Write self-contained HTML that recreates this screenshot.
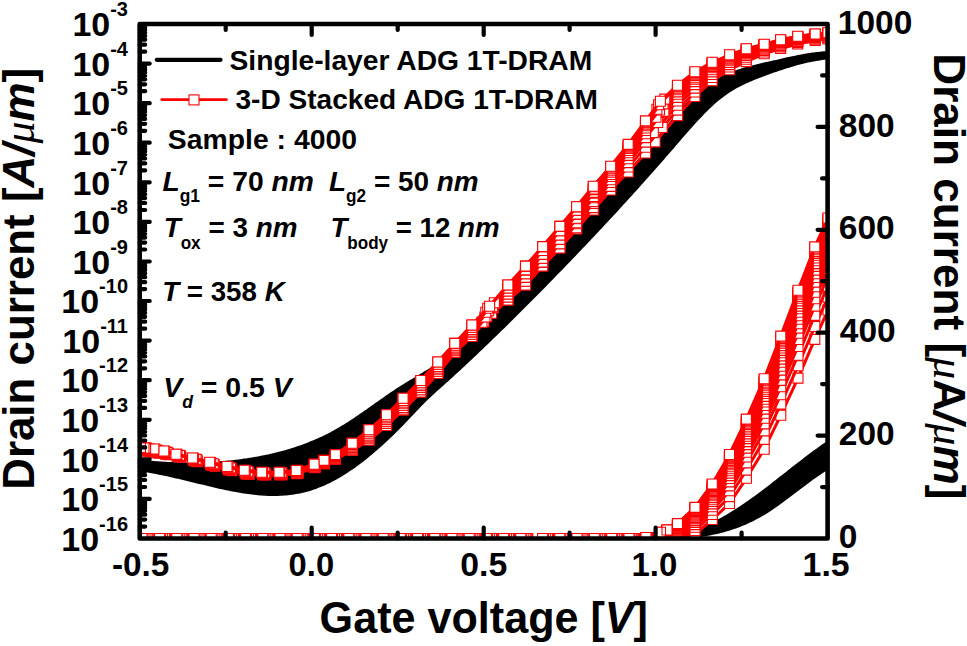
<!DOCTYPE html>
<html><head><meta charset="utf-8"><style>
html,body{margin:0;padding:0;background:#fff;width:967px;height:646px;overflow:hidden}
svg{display:block}
text{font-family:"Liberation Sans",sans-serif;font-weight:bold;fill:#000}
</style></head><body>
<svg width="967" height="646" viewBox="0 0 967 646">
<rect x="0" y="0" width="967" height="646" fill="#fff"/>
<defs><clipPath id="pc"><rect x="139.7" y="24" width="687.9" height="514.5"/></clipPath></defs>
<g clip-path="url(#pc)">
<path d="M136,459.2 L138,459.4 L140,459.6 L142,459.9 L144,460.1 L146,460.3 L148,460.5 L150,460.7 L152,460.8 L154,461 L156,461.2 L158,461.3 L160,461.5 L162,461.6 L164,461.7 L166,461.8 L168,461.9 L170,462 L172,462.1 L174,462.2 L176,462.3 L178,462.3 L180,462.4 L182,462.4 L184,462.4 L186,462.5 L188,462.5 L190,462.5 L192,462.5 L194,462.5 L196,462.4 L198,462.4 L200,462.3 L202,462.3 L204,462.2 L206,462.1 L208,462 L210,461.9 L212,461.8 L214,461.7 L216,461.6 L218,461.5 L220,461.3 L222,461.1 L224,461 L226,460.8 L228,460.6 L230,460.4 L232,460.2 L234,459.9 L236,459.7 L238,459.5 L240,459.2 L242,458.9 L244,458.6 L246,458.4 L248,458 L250,457.7 L252,457.4 L254,457.1 L256,456.7 L258,456.4 L260,456 L262,455.6 L264,455.2 L266,454.8 L268,454.4 L270,453.9 L272,453.5 L274,453 L276,452.5 L278,452 L280,451.5 L282,451 L284,450.4 L286,449.9 L288,449.3 L290,448.7 L292,448.1 L294,447.4 L296,446.8 L298,446.1 L300,445.4 L302,444.7 L304,444 L306,443.2 L308,442.4 L310,441.6 L312,440.8 L314,440 L316,439.1 L318,438.2 L320,437.3 L322,436.4 L324,435.4 L326,434.4 L328,433.4 L330,432.4 L332,431.3 L334,430.2 L336,429.1 L338,428 L340,426.8 L342,425.6 L344,424.4 L346,423.1 L348,421.9 L350,420.6 L352,419.3 L354,417.9 L356,416.6 L358,415.2 L360,413.8 L362,412.5 L364,411.1 L366,409.7 L368,408.3 L370,406.8 L372,405.4 L374,404 L376,402.6 L378,401.2 L380,399.8 L382,398.4 L384,397 L386,395.6 L388,394.2 L390,392.8 L392,391.5 L394,390.2 L396,388.8 L398,387.5 L400,386.3 L402,385 L404,383.8 L406,382.5 L408,381.3 L410,380.1 L412,378.9 L414,377.7 L416,376.5 L418,375.3 L420,374.1 L422,372.9 L424,371.6 L426,370.4 L428,369.2 L430,367.9 L432,366.6 L434,365.3 L436,363.9 L438,362.6 L440,361.2 L442,359.8 L444,358.3 L446,356.8 L448,355.3 L450,353.7 L452,352.1 L454,350.5 L456,348.8 L458,347.1 L460,345.3 L462,343.5 L464,341.7 L466,339.7 L468,337.8 L470,335.7 L472,333.7 L474,331.5 L476,329.4 L478,327.1 L480,324.9 L482,322.7 L484,320.5 L486,318.3 L488,316.1 L490,314 L492,312 L494,310 L496,308.1 L498,306.3 L500,304.5 L502,302.7 L504,300.9 L506,299.2 L508,297.5 L510,295.8 L512,294.1 L514,292.4 L516,290.7 L518,289 L520,287.3 L522,285.5 L524,283.7 L526,281.9 L528,280 L530,278.1 L532,276.2 L534,274.2 L536,272.2 L538,270.1 L540,268.1 L542,265.9 L544,263.8 L546,261.6 L548,259.4 L550,257.2 L552,255 L554,252.7 L556,250.5 L558,248.2 L560,245.9 L562,243.6 L564,241.2 L566,238.9 L568,236.6 L570,234.2 L572,231.9 L574,229.6 L576,227.2 L578,224.9 L580,222.6 L582,220.3 L584,218 L586,215.7 L588,213.4 L590,211.2 L592,208.9 L594,206.7 L596,204.5 L598,202.4 L600,200.2 L602,198.1 L604,195.9 L606,193.8 L608,191.7 L610,189.6 L612,187.5 L614,185.4 L616,183.3 L618,181.2 L620,179.1 L622,177 L624,174.9 L626,172.8 L628,170.6 L630,168.5 L632,166.3 L634,164.2 L636,162 L638,159.7 L640,157.5 L642,155.2 L644,152.9 L646,150.6 L648,148.2 L650,145.8 L652,143.4 L654,141 L656,138.6 L658,136.1 L660,133.7 L662,131.2 L664,128.8 L666,126.3 L668,123.9 L670,121.5 L672,119.1 L674,116.7 L676,114.4 L678,112.1 L680,109.8 L682,107.6 L684,105.4 L686,103.3 L688,101.2 L690,99.2 L692,97.3 L694,95.4 L696,93.6 L698,91.9 L700,90.2 L702,88.6 L704,87.1 L706,85.6 L708,84.3 L710,82.9 L712,81.6 L714,80.4 L716,79.3 L718,78.2 L720,77.1 L722,76.1 L724,75.1 L726,74.2 L728,73.3 L730,72.5 L732,71.7 L734,70.9 L736,70.2 L738,69.5 L740,68.9 L742,68.2 L744,67.6 L746,67 L748,66.5 L750,65.9 L752,65.4 L754,64.9 L756,64.4 L758,64 L760,63.5 L762,63 L764,62.6 L766,62.1 L768,61.7 L770,61.2 L772,60.8 L774,60.3 L776,59.9 L778,59.4 L780,58.9 L782,58.5 L784,58 L786,57.6 L788,57.1 L790,56.7 L792,56.3 L794,55.9 L796,55.5 L798,55.1 L800,54.7 L802,54.3 L804,53.9 L806,53.6 L808,53.3 L810,52.9 L812,52.6 L814,52.4 L816,52.1 L818,51.9 L820,51.7 L822,51.5 L824,51.3 L826,51.2 L828,51 L830,51 L832,50.9 L832,59 L830,59.2 L828,59.4 L826,59.6 L824,59.8 L822,60.1 L820,60.4 L818,60.7 L816,61 L814,61.4 L812,61.8 L810,62.2 L808,62.6 L806,63.1 L804,63.6 L802,64.1 L800,64.6 L798,65.1 L796,65.6 L794,66.2 L792,66.8 L790,67.4 L788,68 L786,68.6 L784,69.2 L782,69.9 L780,70.5 L778,71.2 L776,71.9 L774,72.6 L772,73.3 L770,74 L768,74.7 L766,75.5 L764,76.2 L762,77 L760,77.7 L758,78.5 L756,79.3 L754,80.1 L752,80.9 L750,81.8 L748,82.7 L746,83.6 L744,84.5 L742,85.5 L740,86.5 L738,87.5 L736,88.6 L734,89.8 L732,91 L730,92.2 L728,93.5 L726,94.9 L724,96.4 L722,97.9 L720,99.5 L718,101.1 L716,102.8 L714,104.6 L712,106.5 L710,108.3 L708,110.3 L706,112.3 L704,114.3 L702,116.4 L700,118.5 L698,120.6 L696,122.8 L694,125 L692,127.2 L690,129.5 L688,131.7 L686,134 L684,136.3 L682,138.6 L680,141 L678,143.3 L676,145.6 L674,147.9 L672,150.2 L670,152.5 L668,154.8 L666,157.1 L664,159.4 L662,161.7 L660,164 L658,166.3 L656,168.5 L654,170.8 L652,173.1 L650,175.3 L648,177.6 L646,179.8 L644,182 L642,184.3 L640,186.5 L638,188.7 L636,190.9 L634,193.1 L632,195.4 L630,197.6 L628,199.8 L626,202 L624,204.1 L622,206.3 L620,208.5 L618,210.7 L616,212.9 L614,215 L612,217.2 L610,219.3 L608,221.5 L606,223.6 L604,225.8 L602,227.9 L600,230.1 L598,232.2 L596,234.3 L594,236.5 L592,238.6 L590,240.7 L588,242.8 L586,244.9 L584,247 L582,249.1 L580,251.2 L578,253.3 L576,255.4 L574,257.5 L572,259.6 L570,261.7 L568,263.8 L566,265.8 L564,267.9 L562,270 L560,272 L558,274.1 L556,276.1 L554,278.2 L552,280.3 L550,282.3 L548,284.3 L546,286.4 L544,288.4 L542,290.4 L540,292.5 L538,294.5 L536,296.5 L534,298.5 L532,300.6 L530,302.6 L528,304.6 L526,306.6 L524,308.6 L522,310.6 L520,312.6 L518,314.6 L516,316.5 L514,318.5 L512,320.5 L510,322.5 L508,324.4 L506,326.4 L504,328.4 L502,330.3 L500,332.3 L498,334.2 L496,336.2 L494,338.1 L492,340 L490,342 L488,343.9 L486,345.8 L484,347.7 L482,349.7 L480,351.6 L478,353.5 L476,355.4 L474,357.3 L472,359.2 L470,361.1 L468,362.9 L466,364.8 L464,366.7 L462,368.5 L460,370.4 L458,372.2 L456,374.1 L454,375.9 L452,377.7 L450,379.6 L448,381.4 L446,383.1 L444,384.9 L442,386.7 L440,388.5 L438,390.3 L436,392.1 L434,393.9 L432,395.8 L430,397.7 L428,399.6 L426,401.5 L424,403.5 L422,405.6 L420,407.6 L418,409.7 L416,411.8 L414,413.9 L412,416 L410,418.1 L408,420.2 L406,422.3 L404,424.4 L402,426.5 L400,428.5 L398,430.5 L396,432.5 L394,434.4 L392,436.4 L390,438.3 L388,440.2 L386,442.1 L384,443.9 L382,445.7 L380,447.5 L378,449.3 L376,451 L374,452.8 L372,454.4 L370,456.1 L368,457.7 L366,459.4 L364,460.9 L362,462.5 L360,464 L358,465.5 L356,466.9 L354,468.4 L352,469.8 L350,471.1 L348,472.4 L346,473.7 L344,475 L342,476.2 L340,477.4 L338,478.6 L336,479.7 L334,480.8 L332,481.8 L330,482.9 L328,483.8 L326,484.8 L324,485.7 L322,486.5 L320,487.3 L318,488.1 L316,488.9 L314,489.6 L312,490.2 L310,490.9 L308,491.4 L306,492 L304,492.5 L302,493 L300,493.4 L298,493.8 L296,494.1 L294,494.5 L292,494.8 L290,495 L288,495.2 L286,495.4 L284,495.6 L282,495.7 L280,495.8 L278,495.9 L276,495.9 L274,496 L272,496 L270,495.9 L268,495.9 L266,495.8 L264,495.7 L262,495.6 L260,495.4 L258,495.2 L256,495 L254,494.8 L252,494.6 L250,494.3 L248,494.1 L246,493.8 L244,493.5 L242,493.2 L240,492.8 L238,492.5 L236,492.1 L234,491.8 L232,491.4 L230,491 L228,490.6 L226,490.2 L224,489.7 L222,489.3 L220,488.9 L218,488.4 L216,488 L214,487.5 L212,487 L210,486.6 L208,486.1 L206,485.6 L204,485.1 L202,484.6 L200,484.2 L198,483.7 L196,483.2 L194,482.7 L192,482.2 L190,481.7 L188,481.2 L186,480.7 L184,480.3 L182,479.8 L180,479.3 L178,478.8 L176,478.4 L174,477.9 L172,477.4 L170,477 L168,476.6 L166,476.1 L164,475.7 L162,475.3 L160,474.9 L158,474.5 L156,474.1 L154,473.7 L152,473.3 L150,473 L148,472.6 L146,472.3 L144,472 L142,471.7 L140,471.4 L138,471.1 L136,470.8Z" fill="#000"/>
<path d="M600,538.7 L602,538.8 L604,538.8 L606,538.9 L608,538.9 L610,539 L612,539 L614,539.1 L616,539.1 L618,539.1 L620,539.2 L622,539.2 L624,539.2 L626,539.2 L628,539.2 L630,539.2 L632,539.1 L634,539.1 L636,539.1 L638,539 L640,538.9 L642,538.8 L644,538.7 L646,538.6 L648,538.5 L650,538.3 L652,538.2 L654,538 L656,537.8 L658,537.6 L660,537.3 L662,537.1 L664,536.8 L666,536.5 L668,536.2 L670,535.9 L672,535.5 L674,535.1 L676,534.7 L678,534.3 L680,533.8 L682,533.3 L684,532.8 L686,532.2 L688,531.7 L690,531.1 L692,530.4 L694,529.8 L696,529.1 L698,528.4 L700,527.6 L702,526.8 L704,526 L706,525.1 L708,524.2 L710,523.3 L712,522.4 L714,521.4 L716,520.4 L718,519.3 L720,518.3 L722,517.2 L724,516 L726,514.9 L728,513.7 L730,512.5 L732,511.3 L734,510 L736,508.8 L738,507.5 L740,506.2 L742,504.8 L744,503.5 L746,502.1 L748,500.7 L750,499.3 L752,497.8 L754,496.4 L756,494.9 L758,493.5 L760,492 L762,490.5 L764,489 L766,487.4 L768,485.9 L770,484.4 L772,482.8 L774,481.3 L776,479.7 L778,478.1 L780,476.6 L782,475 L784,473.4 L786,471.9 L788,470.3 L790,468.7 L792,467.1 L794,465.6 L796,464 L798,462.5 L800,460.9 L802,459.4 L804,457.8 L806,456.3 L808,454.8 L810,453.3 L812,451.8 L814,450.3 L816,448.9 L818,447.4 L820,446 L822,444.6 L824,443.2 L826,441.8 L828,440.4 L830,439.1 L832,437.8 L832,467.5 L830,468.7 L828,469.9 L826,471.1 L824,472.3 L822,473.6 L820,475 L818,476.3 L816,477.7 L814,479.1 L812,480.5 L810,482 L808,483.5 L806,485 L804,486.5 L802,488 L800,489.5 L798,491 L796,492.5 L794,494.1 L792,495.6 L790,497.1 L788,498.6 L786,500.1 L784,501.6 L782,503.1 L780,504.5 L778,505.9 L776,507.3 L774,508.7 L772,510.1 L770,511.4 L768,512.7 L766,513.9 L764,515.2 L762,516.3 L760,517.5 L758,518.6 L756,519.6 L754,520.7 L752,521.7 L750,522.6 L748,523.5 L746,524.4 L744,525.3 L742,526.1 L740,526.9 L738,527.7 L736,528.4 L734,529.1 L732,529.8 L730,530.4 L728,531.1 L726,531.6 L724,532.2 L722,532.7 L720,533.3 L718,533.7 L716,534.2 L714,534.6 L712,535.1 L710,535.4 L708,535.8 L706,536.2 L704,536.5 L702,536.8 L700,537.1 L698,537.3 L696,537.6 L694,537.8 L692,538 L690,538.2 L688,538.4 L686,538.6 L684,538.7 L682,538.8 L680,539 L678,539.1 L676,539.2 L674,539.2 L672,539.3 L670,539.4 L668,539.4 L666,539.4 L664,539.5 L662,539.5 L660,539.5 L658,539.5 L656,539.5 L654,539.5 L652,539.5 L650,539.5 L648,539.4 L646,539.4 L644,539.4 L642,539.3 L640,539.3 L638,539.3 L636,539.2 L634,539.2 L632,539.1 L630,539.1 L628,539.1 L626,539 L624,539 L622,539 L620,538.9 L618,538.9 L616,538.9 L614,538.9 L612,538.9 L610,538.9 L608,538.9 L606,538.9 L604,538.9 L602,538.9 L600,539Z" fill="#000"/>
<path d="M142,538.5 L159.6,538.5 L176.8,538.5 L194,538.5 L211.2,538.5 L228.4,538.5 L245.6,538.5 L262.8,538.5 L280,538.5 L297.2,538.5 L314.4,538.5 L331.6,538.5 L348.8,538.5 L366,538.5 L383.2,538.5 L400.4,538.5 L417.6,538.5 L434.8,538.5 L452,538.5 L469.2,538.5 L486.4,538.5 L503.6,538.5 L520.8,538.5 L542.6,538.5 L559.8,538.5 L577,538.5 L594.3,538.5 L611.7,538.5 L629,538.5 L646,538.5 L660.5,538.5 L667,538.5 L677.5,538.5 L695,534.2 L712.3,519.5 L729.5,503.5 L746.4,478.3 L764.2,449.3 L780.8,415.2 L798,378.1 L814.8,339.4 L828,310" fill="none" stroke="#ff0000" stroke-width="3.0" stroke-linejoin="round"/><path d="M137,533.5h10v10h-10zM154.6,533.5h10v10h-10zM171.8,533.5h10v10h-10zM189,533.5h10v10h-10zM206.2,533.5h10v10h-10zM223.4,533.5h10v10h-10zM240.6,533.5h10v10h-10zM257.8,533.5h10v10h-10zM275,533.5h10v10h-10zM292.2,533.5h10v10h-10zM309.4,533.5h10v10h-10zM326.6,533.5h10v10h-10zM343.8,533.5h10v10h-10zM361,533.5h10v10h-10zM378.2,533.5h10v10h-10zM395.4,533.5h10v10h-10zM412.6,533.5h10v10h-10zM429.8,533.5h10v10h-10zM447,533.5h10v10h-10zM464.2,533.5h10v10h-10zM481.4,533.5h10v10h-10zM498.6,533.5h10v10h-10zM515.8,533.5h10v10h-10zM537.6,533.5h10v10h-10zM554.8,533.5h10v10h-10zM572,533.5h10v10h-10zM589.3,533.5h10v10h-10zM606.7,533.5h10v10h-10zM624,533.5h10v10h-10zM641,533.5h10v10h-10zM655.5,533.5h10v10h-10zM662,533.5h10v10h-10zM672.5,533.5h10v10h-10zM690,529.2h10v10h-10zM707.3,514.5h10v10h-10zM724.5,498.5h10v10h-10zM741.4,473.3h10v10h-10zM759.2,444.3h10v10h-10zM775.8,410.2h10v10h-10zM793,373.1h10v10h-10zM809.8,334.4h10v10h-10zM823,305h10v10h-10z" fill="#fff" stroke="#ff0000" stroke-width="1.1"/>
<path d="M147,538.5 L164.6,538.5 L181.8,538.5 L199,538.5 L216.2,538.5 L233.4,538.5 L250.6,538.5 L267.8,538.5 L285,538.5 L302.2,538.5 L319.4,538.5 L336.6,538.5 L353.8,538.5 L371,538.5 L388.2,538.5 L405.4,538.5 L422.6,538.5 L439.8,538.5 L457,538.5 L474.2,538.5 L491.4,538.5 L508.6,538.5 L525.8,538.5 L547.6,538.5 L564.8,538.5 L582,538.5 L599.3,538.5 L616.7,538.5 L632.9,538.5 L647.8,538.4 L660.5,537.6 L667,537.3 L677.5,536.4 L695,530.5 L712.3,514.5 L729.5,496.6 L746.4,470.1 L764.2,439.4 L780.8,404.1 L798,365.8 L814.8,326.5 L828,297.1" fill="none" stroke="#ff0000" stroke-width="3.0" stroke-linejoin="round"/><path d="M142,533.5h10v10h-10zM159.6,533.5h10v10h-10zM176.8,533.5h10v10h-10zM194,533.5h10v10h-10zM211.2,533.5h10v10h-10zM228.4,533.5h10v10h-10zM245.6,533.5h10v10h-10zM262.8,533.5h10v10h-10zM280,533.5h10v10h-10zM297.2,533.5h10v10h-10zM314.4,533.5h10v10h-10zM331.6,533.5h10v10h-10zM348.8,533.5h10v10h-10zM366,533.5h10v10h-10zM383.2,533.5h10v10h-10zM400.4,533.5h10v10h-10zM417.6,533.5h10v10h-10zM434.8,533.5h10v10h-10zM452,533.5h10v10h-10zM469.2,533.5h10v10h-10zM486.4,533.5h10v10h-10zM503.6,533.5h10v10h-10zM520.8,533.5h10v10h-10zM542.6,533.5h10v10h-10zM559.8,533.5h10v10h-10zM577,533.5h10v10h-10zM594.3,533.5h10v10h-10zM611.7,533.5h10v10h-10zM627.9,533.5h10v10h-10zM642.8,533.4h10v10h-10zM655.5,532.6h10v10h-10zM662,532.3h10v10h-10zM672.5,531.4h10v10h-10zM690,525.5h10v10h-10zM707.3,509.5h10v10h-10zM724.5,491.6h10v10h-10zM741.4,465.1h10v10h-10zM759.2,434.4h10v10h-10zM775.8,399.1h10v10h-10zM793,360.8h10v10h-10zM809.8,321.5h10v10h-10zM823,292.1h10v10h-10z" fill="#fff" stroke="#ff0000" stroke-width="1.1"/>
<path d="M144,538.5 L161.6,538.5 L178.8,538.5 L196,538.5 L213.2,538.5 L230.4,538.5 L247.6,538.5 L264.8,538.5 L282,538.5 L299.2,538.5 L316.4,538.5 L333.6,538.5 L350.8,538.5 L368,538.5 L385.2,538.5 L402.4,538.5 L419.6,538.5 L436.8,538.5 L454,538.5 L471.2,538.5 L488.4,538.5 L505.6,538.5 L522.8,538.5 L544.6,538.5 L561.8,538.5 L579,538.5 L596.3,538.5 L613.7,538.5 L630.5,538.5 L646.7,538.2 L660.5,536.9 L667,536.3 L677.5,534.6 L695,527.3 L712.3,510.3 L729.5,490.8 L746.4,462.9 L764.2,430.9 L780.8,394.7 L798,355.3 L814.8,315.4 L828,286.1" fill="none" stroke="#ff0000" stroke-width="3.0" stroke-linejoin="round"/><path d="M139,533.5h10v10h-10zM156.6,533.5h10v10h-10zM173.8,533.5h10v10h-10zM191,533.5h10v10h-10zM208.2,533.5h10v10h-10zM225.4,533.5h10v10h-10zM242.6,533.5h10v10h-10zM259.8,533.5h10v10h-10zM277,533.5h10v10h-10zM294.2,533.5h10v10h-10zM311.4,533.5h10v10h-10zM328.6,533.5h10v10h-10zM345.8,533.5h10v10h-10zM363,533.5h10v10h-10zM380.2,533.5h10v10h-10zM397.4,533.5h10v10h-10zM414.6,533.5h10v10h-10zM431.8,533.5h10v10h-10zM449,533.5h10v10h-10zM466.2,533.5h10v10h-10zM483.4,533.5h10v10h-10zM500.6,533.5h10v10h-10zM517.8,533.5h10v10h-10zM539.6,533.5h10v10h-10zM556.8,533.5h10v10h-10zM574,533.5h10v10h-10zM591.3,533.5h10v10h-10zM608.7,533.5h10v10h-10zM625.5,533.5h10v10h-10zM641.7,533.2h10v10h-10zM655.5,531.9h10v10h-10zM662,531.3h10v10h-10zM672.5,529.6h10v10h-10zM690,522.3h10v10h-10zM707.3,505.3h10v10h-10zM724.5,485.8h10v10h-10zM741.4,457.9h10v10h-10zM759.2,425.9h10v10h-10zM775.8,389.7h10v10h-10zM793,350.3h10v10h-10zM809.8,310.4h10v10h-10zM823,281.1h10v10h-10z" fill="#fff" stroke="#ff0000" stroke-width="1.1"/>
<path d="M148.5,538.5 L166.1,538.5 L183.3,538.5 L200.5,538.5 L217.7,538.5 L234.9,538.5 L252.1,538.5 L269.3,538.5 L286.5,538.5 L303.7,538.5 L320.9,538.5 L338.1,538.5 L355.3,538.5 L372.5,538.5 L389.7,538.5 L406.9,538.5 L424.1,538.5 L441.3,538.5 L458.5,538.5 L475.7,538.5 L492.9,538.5 L510.1,538.5 L527.3,538.5 L549.1,538.5 L566.3,538.5 L583.5,538.5 L600.8,538.5 L618.2,538.5 L634,538.5 L648.3,538.1 L660.5,536.3 L667,535.4 L677.5,533.1 L695,524.6 L712.3,506.7 L729.5,485.9 L746.4,457 L764.2,423.9 L780.8,386.7 L798,346.5 L814.8,306.1 L828,276.9" fill="none" stroke="#ff0000" stroke-width="3.0" stroke-linejoin="round"/><path d="M143.5,533.5h10v10h-10zM161.1,533.5h10v10h-10zM178.3,533.5h10v10h-10zM195.5,533.5h10v10h-10zM212.7,533.5h10v10h-10zM229.9,533.5h10v10h-10zM247.1,533.5h10v10h-10zM264.3,533.5h10v10h-10zM281.5,533.5h10v10h-10zM298.7,533.5h10v10h-10zM315.9,533.5h10v10h-10zM333.1,533.5h10v10h-10zM350.3,533.5h10v10h-10zM367.5,533.5h10v10h-10zM384.7,533.5h10v10h-10zM401.9,533.5h10v10h-10zM419.1,533.5h10v10h-10zM436.3,533.5h10v10h-10zM453.5,533.5h10v10h-10zM470.7,533.5h10v10h-10zM487.9,533.5h10v10h-10zM505.1,533.5h10v10h-10zM522.3,533.5h10v10h-10zM544.1,533.5h10v10h-10zM561.3,533.5h10v10h-10zM578.5,533.5h10v10h-10zM595.8,533.5h10v10h-10zM613.2,533.5h10v10h-10zM629,533.5h10v10h-10zM643.3,533.1h10v10h-10zM655.5,531.3h10v10h-10zM662,530.4h10v10h-10zM672.5,528.1h10v10h-10zM690,519.6h10v10h-10zM707.3,501.7h10v10h-10zM724.5,480.9h10v10h-10zM741.4,452h10v10h-10zM759.2,418.9h10v10h-10zM775.8,381.7h10v10h-10zM793,341.5h10v10h-10zM809.8,301.1h10v10h-10zM823,271.9h10v10h-10z" fill="#fff" stroke="#ff0000" stroke-width="1.1"/>
<path d="M145.5,538.5 L163.1,538.5 L180.3,538.5 L197.5,538.5 L214.7,538.5 L231.9,538.5 L249.1,538.5 L266.3,538.5 L283.5,538.5 L300.7,538.5 L317.9,538.5 L335.1,538.5 L352.3,538.5 L369.5,538.5 L386.7,538.5 L403.9,538.5 L421.1,538.5 L438.3,538.5 L455.5,538.5 L472.7,538.5 L489.9,538.5 L507.1,538.5 L524.3,538.5 L546.1,538.5 L563.3,538.5 L580.5,538.5 L597.8,538.5 L615.2,538.5 L631.7,538.5 L647.2,538.1 L660.5,535.8 L667,534.8 L677.5,531.9 L695,522.4 L712.3,503.9 L729.5,481.9 L746.4,452.3 L764.2,418.2 L780.8,380.4 L798,339.5 L814.8,298.7 L828,269.5" fill="none" stroke="#ff0000" stroke-width="3.0" stroke-linejoin="round"/><path d="M140.5,533.5h10v10h-10zM158.1,533.5h10v10h-10zM175.3,533.5h10v10h-10zM192.5,533.5h10v10h-10zM209.7,533.5h10v10h-10zM226.9,533.5h10v10h-10zM244.1,533.5h10v10h-10zM261.3,533.5h10v10h-10zM278.5,533.5h10v10h-10zM295.7,533.5h10v10h-10zM312.9,533.5h10v10h-10zM330.1,533.5h10v10h-10zM347.3,533.5h10v10h-10zM364.5,533.5h10v10h-10zM381.7,533.5h10v10h-10zM398.9,533.5h10v10h-10zM416.1,533.5h10v10h-10zM433.3,533.5h10v10h-10zM450.5,533.5h10v10h-10zM467.7,533.5h10v10h-10zM484.9,533.5h10v10h-10zM502.1,533.5h10v10h-10zM519.3,533.5h10v10h-10zM541.1,533.5h10v10h-10zM558.3,533.5h10v10h-10zM575.5,533.5h10v10h-10zM592.8,533.5h10v10h-10zM610.2,533.5h10v10h-10zM626.7,533.5h10v10h-10zM642.2,533.1h10v10h-10zM655.5,530.8h10v10h-10zM662,529.8h10v10h-10zM672.5,526.9h10v10h-10zM690,517.4h10v10h-10zM707.3,498.9h10v10h-10zM724.5,476.9h10v10h-10zM741.4,447.3h10v10h-10zM759.2,413.2h10v10h-10zM775.8,375.4h10v10h-10zM793,334.5h10v10h-10zM809.8,293.7h10v10h-10zM823,264.5h10v10h-10z" fill="#fff" stroke="#ff0000" stroke-width="1.1"/>
<path d="M143,538.5 L160.6,538.5 L177.8,538.5 L195,538.5 L212.2,538.5 L229.4,538.5 L246.6,538.5 L263.8,538.5 L281,538.5 L298.2,538.5 L315.4,538.5 L332.6,538.5 L349.8,538.5 L367,538.5 L384.2,538.5 L401.4,538.5 L418.6,538.5 L435.8,538.5 L453,538.5 L470.2,538.5 L487.4,538.5 L504.6,538.5 L521.8,538.5 L543.6,538.5 L560.8,538.5 L578,538.5 L595.3,538.5 L612.7,538.5 L629.8,538.5 L646.4,538 L660.5,535.3 L667,534.2 L677.5,530.9 L695,520.6 L712.3,501.4 L729.5,478.5 L746.4,448.1 L764.2,413.3 L780.8,374.9 L798,333.3 L814.8,292.3 L828,263.1" fill="none" stroke="#ff0000" stroke-width="3.0" stroke-linejoin="round"/><path d="M138,533.5h10v10h-10zM155.6,533.5h10v10h-10zM172.8,533.5h10v10h-10zM190,533.5h10v10h-10zM207.2,533.5h10v10h-10zM224.4,533.5h10v10h-10zM241.6,533.5h10v10h-10zM258.8,533.5h10v10h-10zM276,533.5h10v10h-10zM293.2,533.5h10v10h-10zM310.4,533.5h10v10h-10zM327.6,533.5h10v10h-10zM344.8,533.5h10v10h-10zM362,533.5h10v10h-10zM379.2,533.5h10v10h-10zM396.4,533.5h10v10h-10zM413.6,533.5h10v10h-10zM430.8,533.5h10v10h-10zM448,533.5h10v10h-10zM465.2,533.5h10v10h-10zM482.4,533.5h10v10h-10zM499.6,533.5h10v10h-10zM516.8,533.5h10v10h-10zM538.6,533.5h10v10h-10zM555.8,533.5h10v10h-10zM573,533.5h10v10h-10zM590.3,533.5h10v10h-10zM607.7,533.5h10v10h-10zM624.8,533.5h10v10h-10zM641.4,533h10v10h-10zM655.5,530.3h10v10h-10zM662,529.2h10v10h-10zM672.5,525.9h10v10h-10zM690,515.6h10v10h-10zM707.3,496.4h10v10h-10zM724.5,473.5h10v10h-10zM741.4,443.1h10v10h-10zM759.2,408.3h10v10h-10zM775.8,369.9h10v10h-10zM793,328.3h10v10h-10zM809.8,287.3h10v10h-10zM823,258.1h10v10h-10z" fill="#fff" stroke="#ff0000" stroke-width="1.1"/>
<path d="M146.5,538.5 L164.1,538.5 L181.3,538.5 L198.5,538.5 L215.7,538.5 L232.9,538.5 L250.1,538.5 L267.3,538.5 L284.5,538.5 L301.7,538.5 L318.9,538.5 L336.1,538.5 L353.3,538.5 L370.5,538.5 L387.7,538.5 L404.9,538.5 L422.1,538.5 L439.3,538.5 L456.5,538.5 L473.7,538.5 L490.9,538.5 L508.1,538.5 L525.3,538.5 L547.1,538.5 L564.3,538.5 L581.5,538.5 L598.8,538.5 L616.2,538.5 L632.5,538.5 L647.6,537.9 L660.5,535 L667,533.7 L677.5,530 L695,518.9 L712.3,499.3 L729.5,475.6 L746.4,444.6 L764.2,409.1 L780.8,370.1 L798,328.1 L814.8,286.7 L828,257.6" fill="none" stroke="#ff0000" stroke-width="3.0" stroke-linejoin="round"/><path d="M141.5,533.5h10v10h-10zM159.1,533.5h10v10h-10zM176.3,533.5h10v10h-10zM193.5,533.5h10v10h-10zM210.7,533.5h10v10h-10zM227.9,533.5h10v10h-10zM245.1,533.5h10v10h-10zM262.3,533.5h10v10h-10zM279.5,533.5h10v10h-10zM296.7,533.5h10v10h-10zM313.9,533.5h10v10h-10zM331.1,533.5h10v10h-10zM348.3,533.5h10v10h-10zM365.5,533.5h10v10h-10zM382.7,533.5h10v10h-10zM399.9,533.5h10v10h-10zM417.1,533.5h10v10h-10zM434.3,533.5h10v10h-10zM451.5,533.5h10v10h-10zM468.7,533.5h10v10h-10zM485.9,533.5h10v10h-10zM503.1,533.5h10v10h-10zM520.3,533.5h10v10h-10zM542.1,533.5h10v10h-10zM559.3,533.5h10v10h-10zM576.5,533.5h10v10h-10zM593.8,533.5h10v10h-10zM611.2,533.5h10v10h-10zM627.5,533.5h10v10h-10zM642.6,532.9h10v10h-10zM655.5,530h10v10h-10zM662,528.7h10v10h-10zM672.5,525h10v10h-10zM690,513.9h10v10h-10zM707.3,494.3h10v10h-10zM724.5,470.6h10v10h-10zM741.4,439.6h10v10h-10zM759.2,404.1h10v10h-10zM775.8,365.1h10v10h-10zM793,323.1h10v10h-10zM809.8,281.7h10v10h-10zM823,252.6h10v10h-10z" fill="#fff" stroke="#ff0000" stroke-width="1.1"/>
<path d="M149,538.5 L166.6,538.5 L183.8,538.5 L201,538.5 L218.2,538.5 L235.4,538.5 L252.6,538.5 L269.8,538.5 L287,538.5 L304.2,538.5 L321.4,538.5 L338.6,538.5 L355.8,538.5 L373,538.5 L390.2,538.5 L407.4,538.5 L424.6,538.5 L441.8,538.5 L459,538.5 L476.2,538.5 L493.4,538.5 L510.6,538.5 L527.8,538.5 L549.6,538.5 L566.8,538.5 L584,538.5 L601.3,538.5 L618.7,538.5 L634.4,538.5 L648.5,537.9 L660.5,534.7 L667,533.2 L677.5,529.3 L695,517.6 L712.3,497.5 L729.5,473.1 L746.4,441.6 L764.2,405.5 L780.8,366.2 L798,323.7 L814.8,282.1 L828,253" fill="none" stroke="#ff0000" stroke-width="3.0" stroke-linejoin="round"/><path d="M144,533.5h10v10h-10zM161.6,533.5h10v10h-10zM178.8,533.5h10v10h-10zM196,533.5h10v10h-10zM213.2,533.5h10v10h-10zM230.4,533.5h10v10h-10zM247.6,533.5h10v10h-10zM264.8,533.5h10v10h-10zM282,533.5h10v10h-10zM299.2,533.5h10v10h-10zM316.4,533.5h10v10h-10zM333.6,533.5h10v10h-10zM350.8,533.5h10v10h-10zM368,533.5h10v10h-10zM385.2,533.5h10v10h-10zM402.4,533.5h10v10h-10zM419.6,533.5h10v10h-10zM436.8,533.5h10v10h-10zM454,533.5h10v10h-10zM471.2,533.5h10v10h-10zM488.4,533.5h10v10h-10zM505.6,533.5h10v10h-10zM522.8,533.5h10v10h-10zM544.6,533.5h10v10h-10zM561.8,533.5h10v10h-10zM579,533.5h10v10h-10zM596.3,533.5h10v10h-10zM613.7,533.5h10v10h-10zM629.4,533.5h10v10h-10zM643.5,532.9h10v10h-10zM655.5,529.7h10v10h-10zM662,528.2h10v10h-10zM672.5,524.3h10v10h-10zM690,512.6h10v10h-10zM707.3,492.5h10v10h-10zM724.5,468.1h10v10h-10zM741.4,436.6h10v10h-10zM759.2,400.5h10v10h-10zM775.8,361.2h10v10h-10zM793,318.7h10v10h-10zM809.8,277.1h10v10h-10zM823,248h10v10h-10z" fill="#fff" stroke="#ff0000" stroke-width="1.1"/>
<path d="M144.5,538.5 L162.1,538.5 L179.3,538.5 L196.5,538.5 L213.7,538.5 L230.9,538.5 L248.1,538.5 L265.3,538.5 L282.5,538.5 L299.7,538.5 L316.9,538.5 L334.1,538.5 L351.3,538.5 L368.5,538.5 L385.7,538.5 L402.9,538.5 L420.1,538.5 L437.3,538.5 L454.5,538.5 L471.7,538.5 L488.9,538.5 L506.1,538.5 L523.3,538.5 L545.1,538.5 L562.3,538.5 L579.5,538.5 L596.8,538.5 L614.2,538.5 L630.9,538.5 L646.9,537.8 L660.5,534.4 L667,532.8 L677.5,528.5 L695,516.3 L712.3,495.7 L729.5,470.7 L746.4,438.6 L764.2,402 L780.8,362.2 L798,319.3 L814.8,277.5 L828,248.4" fill="none" stroke="#ff0000" stroke-width="3.0" stroke-linejoin="round"/><path d="M139.5,533.5h10v10h-10zM157.1,533.5h10v10h-10zM174.3,533.5h10v10h-10zM191.5,533.5h10v10h-10zM208.7,533.5h10v10h-10zM225.9,533.5h10v10h-10zM243.1,533.5h10v10h-10zM260.3,533.5h10v10h-10zM277.5,533.5h10v10h-10zM294.7,533.5h10v10h-10zM311.9,533.5h10v10h-10zM329.1,533.5h10v10h-10zM346.3,533.5h10v10h-10zM363.5,533.5h10v10h-10zM380.7,533.5h10v10h-10zM397.9,533.5h10v10h-10zM415.1,533.5h10v10h-10zM432.3,533.5h10v10h-10zM449.5,533.5h10v10h-10zM466.7,533.5h10v10h-10zM483.9,533.5h10v10h-10zM501.1,533.5h10v10h-10zM518.3,533.5h10v10h-10zM540.1,533.5h10v10h-10zM557.3,533.5h10v10h-10zM574.5,533.5h10v10h-10zM591.8,533.5h10v10h-10zM609.2,533.5h10v10h-10zM625.9,533.5h10v10h-10zM641.9,532.8h10v10h-10zM655.5,529.4h10v10h-10zM662,527.8h10v10h-10zM672.5,523.5h10v10h-10zM690,511.3h10v10h-10zM707.3,490.7h10v10h-10zM724.5,465.7h10v10h-10zM741.4,433.6h10v10h-10zM759.2,397h10v10h-10zM775.8,357.2h10v10h-10zM793,314.3h10v10h-10zM809.8,272.5h10v10h-10zM823,243.4h10v10h-10z" fill="#fff" stroke="#ff0000" stroke-width="1.1"/>
<path d="M147.5,538.5 L165.1,538.5 L182.3,538.5 L199.5,538.5 L216.7,538.5 L233.9,538.5 L251.1,538.5 L268.3,538.5 L285.5,538.5 L302.7,538.5 L319.9,538.5 L337.1,538.5 L354.3,538.5 L371.5,538.5 L388.7,538.5 L405.9,538.5 L423.1,538.5 L440.3,538.5 L457.5,538.5 L474.7,538.5 L491.9,538.5 L509.1,538.5 L526.3,538.5 L548.1,538.5 L565.3,538.5 L582.5,538.5 L599.8,538.5 L617.2,538.5 L633.3,538.5 L647.9,537.8 L660.5,534.1 L667,532.5 L677.5,527.9 L695,515.2 L712.3,494.3 L729.5,468.7 L746.4,436.3 L764.2,399.2 L780.8,359.1 L798,315.8 L814.8,273.8 L828,244.7" fill="none" stroke="#ff0000" stroke-width="3.0" stroke-linejoin="round"/><path d="M142.5,533.5h10v10h-10zM160.1,533.5h10v10h-10zM177.3,533.5h10v10h-10zM194.5,533.5h10v10h-10zM211.7,533.5h10v10h-10zM228.9,533.5h10v10h-10zM246.1,533.5h10v10h-10zM263.3,533.5h10v10h-10zM280.5,533.5h10v10h-10zM297.7,533.5h10v10h-10zM314.9,533.5h10v10h-10zM332.1,533.5h10v10h-10zM349.3,533.5h10v10h-10zM366.5,533.5h10v10h-10zM383.7,533.5h10v10h-10zM400.9,533.5h10v10h-10zM418.1,533.5h10v10h-10zM435.3,533.5h10v10h-10zM452.5,533.5h10v10h-10zM469.7,533.5h10v10h-10zM486.9,533.5h10v10h-10zM504.1,533.5h10v10h-10zM521.3,533.5h10v10h-10zM543.1,533.5h10v10h-10zM560.3,533.5h10v10h-10zM577.5,533.5h10v10h-10zM594.8,533.5h10v10h-10zM612.2,533.5h10v10h-10zM628.3,533.5h10v10h-10zM642.9,532.8h10v10h-10zM655.5,529.1h10v10h-10zM662,527.5h10v10h-10zM672.5,522.9h10v10h-10zM690,510.2h10v10h-10zM707.3,489.3h10v10h-10zM724.5,463.7h10v10h-10zM741.4,431.3h10v10h-10zM759.2,394.2h10v10h-10zM775.8,354.1h10v10h-10zM793,310.8h10v10h-10zM809.8,268.8h10v10h-10zM823,239.7h10v10h-10z" fill="#fff" stroke="#ff0000" stroke-width="1.1"/>
<path d="M142.5,538.5 L160.1,538.5 L177.3,538.5 L194.5,538.5 L211.7,538.5 L228.9,538.5 L246.1,538.5 L263.3,538.5 L280.5,538.5 L297.7,538.5 L314.9,538.5 L332.1,538.5 L349.3,538.5 L366.5,538.5 L383.7,538.5 L400.9,538.5 L418.1,538.5 L435.3,538.5 L452.5,538.5 L469.7,538.5 L486.9,538.5 L504.1,538.5 L521.3,538.5 L543.1,538.5 L560.3,538.5 L577.5,538.5 L594.8,538.5 L612.2,538.5 L629.4,538.5 L646.2,537.8 L660.5,533.9 L667,532.1 L677.5,527.3 L695,514.1 L712.3,492.9 L729.5,466.8 L746.4,433.9 L764.2,396.4 L780.8,355.9 L798,312.3 L814.8,270.1 L828,241" fill="none" stroke="#ff0000" stroke-width="3.0" stroke-linejoin="round"/><path d="M137.5,533.5h10v10h-10zM155.1,533.5h10v10h-10zM172.3,533.5h10v10h-10zM189.5,533.5h10v10h-10zM206.7,533.5h10v10h-10zM223.9,533.5h10v10h-10zM241.1,533.5h10v10h-10zM258.3,533.5h10v10h-10zM275.5,533.5h10v10h-10zM292.7,533.5h10v10h-10zM309.9,533.5h10v10h-10zM327.1,533.5h10v10h-10zM344.3,533.5h10v10h-10zM361.5,533.5h10v10h-10zM378.7,533.5h10v10h-10zM395.9,533.5h10v10h-10zM413.1,533.5h10v10h-10zM430.3,533.5h10v10h-10zM447.5,533.5h10v10h-10zM464.7,533.5h10v10h-10zM481.9,533.5h10v10h-10zM499.1,533.5h10v10h-10zM516.3,533.5h10v10h-10zM538.1,533.5h10v10h-10zM555.3,533.5h10v10h-10zM572.5,533.5h10v10h-10zM589.8,533.5h10v10h-10zM607.2,533.5h10v10h-10zM624.4,533.5h10v10h-10zM641.2,532.8h10v10h-10zM655.5,528.9h10v10h-10zM662,527.1h10v10h-10zM672.5,522.3h10v10h-10zM690,509.1h10v10h-10zM707.3,487.9h10v10h-10zM724.5,461.8h10v10h-10zM741.4,428.9h10v10h-10zM759.2,391.4h10v10h-10zM775.8,350.9h10v10h-10zM793,307.3h10v10h-10zM809.8,265.1h10v10h-10zM823,236h10v10h-10z" fill="#fff" stroke="#ff0000" stroke-width="1.1"/>
<path d="M145,538.5 L162.6,538.5 L179.8,538.5 L197,538.5 L214.2,538.5 L231.4,538.5 L248.6,538.5 L265.8,538.5 L283,538.5 L300.2,538.5 L317.4,538.5 L334.6,538.5 L351.8,538.5 L369,538.5 L386.2,538.5 L403.4,538.5 L420.6,538.5 L437.8,538.5 L455,538.5 L472.2,538.5 L489.4,538.5 L506.6,538.5 L523.8,538.5 L545.6,538.5 L562.8,538.5 L580,538.5 L597.3,538.5 L614.7,538.5 L631.3,538.5 L647,537.7 L660.5,533.6 L667,531.8 L677.5,526.7 L695,513 L712.3,491.5 L729.5,464.8 L746.4,431.5 L764.2,393.5 L780.8,352.7 L798,308.8 L814.8,266.4 L828,237.3" fill="none" stroke="#ff0000" stroke-width="3.0" stroke-linejoin="round"/><path d="M140,533.5h10v10h-10zM157.6,533.5h10v10h-10zM174.8,533.5h10v10h-10zM192,533.5h10v10h-10zM209.2,533.5h10v10h-10zM226.4,533.5h10v10h-10zM243.6,533.5h10v10h-10zM260.8,533.5h10v10h-10zM278,533.5h10v10h-10zM295.2,533.5h10v10h-10zM312.4,533.5h10v10h-10zM329.6,533.5h10v10h-10zM346.8,533.5h10v10h-10zM364,533.5h10v10h-10zM381.2,533.5h10v10h-10zM398.4,533.5h10v10h-10zM415.6,533.5h10v10h-10zM432.8,533.5h10v10h-10zM450,533.5h10v10h-10zM467.2,533.5h10v10h-10zM484.4,533.5h10v10h-10zM501.6,533.5h10v10h-10zM518.8,533.5h10v10h-10zM540.6,533.5h10v10h-10zM557.8,533.5h10v10h-10zM575,533.5h10v10h-10zM592.3,533.5h10v10h-10zM609.7,533.5h10v10h-10zM626.3,533.5h10v10h-10zM642,532.7h10v10h-10zM655.5,528.6h10v10h-10zM662,526.8h10v10h-10zM672.5,521.7h10v10h-10zM690,508h10v10h-10zM707.3,486.5h10v10h-10zM724.5,459.8h10v10h-10zM741.4,426.5h10v10h-10zM759.2,388.5h10v10h-10zM775.8,347.7h10v10h-10zM793,303.8h10v10h-10zM809.8,261.4h10v10h-10zM823,232.3h10v10h-10z" fill="#fff" stroke="#ff0000" stroke-width="1.1"/>
<path d="M148,538.5 L165.6,538.5 L182.8,538.5 L200,538.5 L217.2,538.5 L234.4,538.5 L251.6,538.5 L268.8,538.5 L286,538.5 L303.2,538.5 L320.4,538.5 L337.6,538.5 L354.8,538.5 L372,538.5 L389.2,538.5 L406.4,538.5 L423.6,538.5 L440.8,538.5 L458,538.5 L475.2,538.5 L492.4,538.5 L509.6,538.5 L526.8,538.5 L548.6,538.5 L565.8,538.5 L583,538.5 L600.3,538.5 L617.7,538.5 L633.6,538.5 L648.1,537.7 L660.5,533.4 L667,531.5 L677.5,526.3 L695,512.2 L712.3,490.4 L729.5,463.3 L746.4,429.7 L764.2,391.4 L780.8,350.4 L798,306.1 L814.8,263.6 L828,234.6" fill="none" stroke="#ff0000" stroke-width="3.0" stroke-linejoin="round"/><path d="M143,533.5h10v10h-10zM160.6,533.5h10v10h-10zM177.8,533.5h10v10h-10zM195,533.5h10v10h-10zM212.2,533.5h10v10h-10zM229.4,533.5h10v10h-10zM246.6,533.5h10v10h-10zM263.8,533.5h10v10h-10zM281,533.5h10v10h-10zM298.2,533.5h10v10h-10zM315.4,533.5h10v10h-10zM332.6,533.5h10v10h-10zM349.8,533.5h10v10h-10zM367,533.5h10v10h-10zM384.2,533.5h10v10h-10zM401.4,533.5h10v10h-10zM418.6,533.5h10v10h-10zM435.8,533.5h10v10h-10zM453,533.5h10v10h-10zM470.2,533.5h10v10h-10zM487.4,533.5h10v10h-10zM504.6,533.5h10v10h-10zM521.8,533.5h10v10h-10zM543.6,533.5h10v10h-10zM560.8,533.5h10v10h-10zM578,533.5h10v10h-10zM595.3,533.5h10v10h-10zM612.7,533.5h10v10h-10zM628.6,533.5h10v10h-10zM643.1,532.7h10v10h-10zM655.5,528.4h10v10h-10zM662,526.5h10v10h-10zM672.5,521.3h10v10h-10zM690,507.2h10v10h-10zM707.3,485.4h10v10h-10zM724.5,458.3h10v10h-10zM741.4,424.7h10v10h-10zM759.2,386.4h10v10h-10zM775.8,345.4h10v10h-10zM793,301.1h10v10h-10zM809.8,258.6h10v10h-10zM823,229.6h10v10h-10z" fill="#fff" stroke="#ff0000" stroke-width="1.1"/>
<path d="M143.5,538.5 L161.1,538.5 L178.3,538.5 L195.5,538.5 L212.7,538.5 L229.9,538.5 L247.1,538.5 L264.3,538.5 L281.5,538.5 L298.7,538.5 L315.9,538.5 L333.1,538.5 L350.3,538.5 L367.5,538.5 L384.7,538.5 L401.9,538.5 L419.1,538.5 L436.3,538.5 L453.5,538.5 L470.7,538.5 L487.9,538.5 L505.1,538.5 L522.3,538.5 L544.1,538.5 L561.3,538.5 L578.5,538.5 L595.8,538.5 L613.2,538.5 L630.2,538.5 L646.5,537.6 L660.5,533.2 L667,531.3 L677.5,525.8 L695,511.4 L712.3,489.3 L729.5,461.9 L746.4,428 L764.2,389.3 L780.8,348 L798,303.5 L814.8,260.8 L828,231.8" fill="none" stroke="#ff0000" stroke-width="3.0" stroke-linejoin="round"/><path d="M138.5,533.5h10v10h-10zM156.1,533.5h10v10h-10zM173.3,533.5h10v10h-10zM190.5,533.5h10v10h-10zM207.7,533.5h10v10h-10zM224.9,533.5h10v10h-10zM242.1,533.5h10v10h-10zM259.3,533.5h10v10h-10zM276.5,533.5h10v10h-10zM293.7,533.5h10v10h-10zM310.9,533.5h10v10h-10zM328.1,533.5h10v10h-10zM345.3,533.5h10v10h-10zM362.5,533.5h10v10h-10zM379.7,533.5h10v10h-10zM396.9,533.5h10v10h-10zM414.1,533.5h10v10h-10zM431.3,533.5h10v10h-10zM448.5,533.5h10v10h-10zM465.7,533.5h10v10h-10zM482.9,533.5h10v10h-10zM500.1,533.5h10v10h-10zM517.3,533.5h10v10h-10zM539.1,533.5h10v10h-10zM556.3,533.5h10v10h-10zM573.5,533.5h10v10h-10zM590.8,533.5h10v10h-10zM608.2,533.5h10v10h-10zM625.2,533.5h10v10h-10zM641.5,532.6h10v10h-10zM655.5,528.2h10v10h-10zM662,526.3h10v10h-10zM672.5,520.8h10v10h-10zM690,506.4h10v10h-10zM707.3,484.3h10v10h-10zM724.5,456.9h10v10h-10zM741.4,423h10v10h-10zM759.2,384.3h10v10h-10zM775.8,343h10v10h-10zM793,298.5h10v10h-10zM809.8,255.8h10v10h-10zM823,226.8h10v10h-10z" fill="#fff" stroke="#ff0000" stroke-width="1.1"/>
<path d="M146,538.5 L163.6,538.5 L180.8,538.5 L198,538.5 L215.2,538.5 L232.4,538.5 L249.6,538.5 L266.8,538.5 L284,538.5 L301.2,538.5 L318.4,538.5 L335.6,538.5 L352.8,538.5 L370,538.5 L387.2,538.5 L404.4,538.5 L421.6,538.5 L438.8,538.5 L456,538.5 L473.2,538.5 L490.4,538.5 L507.6,538.5 L524.8,538.5 L546.6,538.5 L563.8,538.5 L581,538.5 L598.3,538.5 L615.7,538.5 L632.1,538.5 L647.4,537.6 L660.5,533.1 L667,531 L677.5,525.4 L695,510.6 L712.3,488.3 L729.5,460.4 L746.4,426.2 L764.2,387.2 L780.8,345.6 L798,300.9 L814.8,258 L828,229" fill="none" stroke="#ff0000" stroke-width="3.0" stroke-linejoin="round"/><path d="M141,533.5h10v10h-10zM158.6,533.5h10v10h-10zM175.8,533.5h10v10h-10zM193,533.5h10v10h-10zM210.2,533.5h10v10h-10zM227.4,533.5h10v10h-10zM244.6,533.5h10v10h-10zM261.8,533.5h10v10h-10zM279,533.5h10v10h-10zM296.2,533.5h10v10h-10zM313.4,533.5h10v10h-10zM330.6,533.5h10v10h-10zM347.8,533.5h10v10h-10zM365,533.5h10v10h-10zM382.2,533.5h10v10h-10zM399.4,533.5h10v10h-10zM416.6,533.5h10v10h-10zM433.8,533.5h10v10h-10zM451,533.5h10v10h-10zM468.2,533.5h10v10h-10zM485.4,533.5h10v10h-10zM502.6,533.5h10v10h-10zM519.8,533.5h10v10h-10zM541.6,533.5h10v10h-10zM558.8,533.5h10v10h-10zM576,533.5h10v10h-10zM593.3,533.5h10v10h-10zM610.7,533.5h10v10h-10zM627.1,533.5h10v10h-10zM642.4,532.6h10v10h-10zM655.5,528.1h10v10h-10zM662,526h10v10h-10zM672.5,520.4h10v10h-10zM690,505.6h10v10h-10zM707.3,483.3h10v10h-10zM724.5,455.4h10v10h-10zM741.4,421.2h10v10h-10zM759.2,382.2h10v10h-10zM775.8,340.6h10v10h-10zM793,295.9h10v10h-10zM809.8,253h10v10h-10zM823,224h10v10h-10z" fill="#fff" stroke="#ff0000" stroke-width="1.1"/>
<path d="M142,538.5 L159.6,538.5 L176.8,538.5 L194,538.5 L211.2,538.5 L228.4,538.5 L245.6,538.5 L262.8,538.5 L280,538.5 L297.2,538.5 L314.4,538.5 L331.6,538.5 L348.8,538.5 L366,538.5 L383.2,538.5 L400.4,538.5 L417.6,538.5 L434.8,538.5 L452,538.5 L469.2,538.5 L486.4,538.5 L503.6,538.5 L520.8,538.5 L542.6,538.5 L559.8,538.5 L577,538.5 L594.3,538.5 L611.7,538.5 L629,538.5 L646,537.6 L660.5,532.9 L667,530.8 L677.5,524.9 L695,509.8 L712.3,487.2 L729.5,458.9 L746.4,424.4 L764.2,385.1 L780.8,343.3 L798,298.2 L814.8,255.3 L828,226.3" fill="none" stroke="#ff0000" stroke-width="3.0" stroke-linejoin="round"/><path d="M137,533.5h10v10h-10zM154.6,533.5h10v10h-10zM171.8,533.5h10v10h-10zM189,533.5h10v10h-10zM206.2,533.5h10v10h-10zM223.4,533.5h10v10h-10zM240.6,533.5h10v10h-10zM257.8,533.5h10v10h-10zM275,533.5h10v10h-10zM292.2,533.5h10v10h-10zM309.4,533.5h10v10h-10zM326.6,533.5h10v10h-10zM343.8,533.5h10v10h-10zM361,533.5h10v10h-10zM378.2,533.5h10v10h-10zM395.4,533.5h10v10h-10zM412.6,533.5h10v10h-10zM429.8,533.5h10v10h-10zM447,533.5h10v10h-10zM464.2,533.5h10v10h-10zM481.4,533.5h10v10h-10zM498.6,533.5h10v10h-10zM515.8,533.5h10v10h-10zM537.6,533.5h10v10h-10zM554.8,533.5h10v10h-10zM572,533.5h10v10h-10zM589.3,533.5h10v10h-10zM606.7,533.5h10v10h-10zM624,533.5h10v10h-10zM641,532.6h10v10h-10zM655.5,527.9h10v10h-10zM662,525.8h10v10h-10zM672.5,519.9h10v10h-10zM690,504.8h10v10h-10zM707.3,482.2h10v10h-10zM724.5,453.9h10v10h-10zM741.4,419.4h10v10h-10zM759.2,380.1h10v10h-10zM775.8,338.3h10v10h-10zM793,293.2h10v10h-10zM809.8,250.3h10v10h-10zM823,221.3h10v10h-10z" fill="#fff" stroke="#ff0000" stroke-width="1.1"/>
<path d="M144,538.5 L161.6,538.5 L178.8,538.5 L196,538.5 L213.2,538.5 L230.4,538.5 L247.6,538.5 L264.8,538.5 L282,538.5 L299.2,538.5 L316.4,538.5 L333.6,538.5 L350.8,538.5 L368,538.5 L385.2,538.5 L402.4,538.5 L419.6,538.5 L436.8,538.5 L454,538.5 L471.2,538.5 L488.4,538.5 L505.6,538.5 L522.8,538.5 L544.6,538.5 L561.8,538.5 L579,538.5 L596.3,538.5 L613.7,538.5 L630.5,538.5 L646.7,537.6 L660.5,532.8 L667,530.6 L677.5,524.6 L695,509.3 L712.3,486.5 L729.5,457.9 L746.4,423.2 L764.2,383.7 L780.8,341.7 L798,296.5 L814.8,253.4 L828,224.4" fill="none" stroke="#ff0000" stroke-width="3.0" stroke-linejoin="round"/><path d="M139,533.5h10v10h-10zM156.6,533.5h10v10h-10zM173.8,533.5h10v10h-10zM191,533.5h10v10h-10zM208.2,533.5h10v10h-10zM225.4,533.5h10v10h-10zM242.6,533.5h10v10h-10zM259.8,533.5h10v10h-10zM277,533.5h10v10h-10zM294.2,533.5h10v10h-10zM311.4,533.5h10v10h-10zM328.6,533.5h10v10h-10zM345.8,533.5h10v10h-10zM363,533.5h10v10h-10zM380.2,533.5h10v10h-10zM397.4,533.5h10v10h-10zM414.6,533.5h10v10h-10zM431.8,533.5h10v10h-10zM449,533.5h10v10h-10zM466.2,533.5h10v10h-10zM483.4,533.5h10v10h-10zM500.6,533.5h10v10h-10zM517.8,533.5h10v10h-10zM539.6,533.5h10v10h-10zM556.8,533.5h10v10h-10zM574,533.5h10v10h-10zM591.3,533.5h10v10h-10zM608.7,533.5h10v10h-10zM625.5,533.5h10v10h-10zM641.7,532.6h10v10h-10zM655.5,527.8h10v10h-10zM662,525.6h10v10h-10zM672.5,519.6h10v10h-10zM690,504.3h10v10h-10zM707.3,481.5h10v10h-10zM724.5,452.9h10v10h-10zM741.4,418.2h10v10h-10zM759.2,378.7h10v10h-10zM775.8,336.7h10v10h-10zM793,291.5h10v10h-10zM809.8,248.4h10v10h-10zM823,219.4h10v10h-10z" fill="#fff" stroke="#ff0000" stroke-width="1.1"/>
<path d="M147,538.5 L164.6,538.5 L181.8,538.5 L199,538.5 L216.2,538.5 L233.4,538.5 L250.6,538.5 L267.8,538.5 L285,538.5 L302.2,538.5 L319.4,538.5 L336.6,538.5 L353.8,538.5 L371,538.5 L388.2,538.5 L405.4,538.5 L422.6,538.5 L439.8,538.5 L457,538.5 L474.2,538.5 L491.4,538.5 L508.6,538.5 L525.8,538.5 L547.6,538.5 L564.8,538.5 L582,538.5 L599.3,538.5 L616.7,538.5 L632.9,538.5 L647.8,537.5 L660.5,532.6 L667,530.4 L677.5,524.3 L695,508.7 L712.3,485.8 L729.5,456.9 L746.4,422 L764.2,382.3 L780.8,340.1 L798,294.7 L814.8,251.6 L828,222.6" fill="none" stroke="#ff0000" stroke-width="3.0" stroke-linejoin="round"/><path d="M142,533.5h10v10h-10zM159.6,533.5h10v10h-10zM176.8,533.5h10v10h-10zM194,533.5h10v10h-10zM211.2,533.5h10v10h-10zM228.4,533.5h10v10h-10zM245.6,533.5h10v10h-10zM262.8,533.5h10v10h-10zM280,533.5h10v10h-10zM297.2,533.5h10v10h-10zM314.4,533.5h10v10h-10zM331.6,533.5h10v10h-10zM348.8,533.5h10v10h-10zM366,533.5h10v10h-10zM383.2,533.5h10v10h-10zM400.4,533.5h10v10h-10zM417.6,533.5h10v10h-10zM434.8,533.5h10v10h-10zM452,533.5h10v10h-10zM469.2,533.5h10v10h-10zM486.4,533.5h10v10h-10zM503.6,533.5h10v10h-10zM520.8,533.5h10v10h-10zM542.6,533.5h10v10h-10zM559.8,533.5h10v10h-10zM577,533.5h10v10h-10zM594.3,533.5h10v10h-10zM611.7,533.5h10v10h-10zM627.9,533.5h10v10h-10zM642.8,532.5h10v10h-10zM655.5,527.6h10v10h-10zM662,525.4h10v10h-10zM672.5,519.3h10v10h-10zM690,503.7h10v10h-10zM707.3,480.8h10v10h-10zM724.5,451.9h10v10h-10zM741.4,417h10v10h-10zM759.2,377.3h10v10h-10zM775.8,335.1h10v10h-10zM793,289.7h10v10h-10zM809.8,246.6h10v10h-10zM823,217.6h10v10h-10z" fill="#fff" stroke="#ff0000" stroke-width="1.1"/>
<path d="M145,538.5 L162.6,538.5 L179.8,538.5 L197,538.5 L214.2,538.5 L231.4,538.5 L248.6,538.5 L265.8,538.5 L283,538.5 L300.2,538.5 L317.4,538.5 L334.6,538.5 L351.8,538.5 L369,538.5 L386.2,538.5 L403.4,538.5 L420.6,538.5 L437.8,538.5 L455,538.5 L472.2,538.5 L489.4,538.5 L506.6,538.5 L523.8,538.5 L545.6,538.5 L562.8,538.5 L580,538.5 L597.3,538.5 L614.7,538.5 L631.3,538.5 L647,537.5 L660.5,532.5 L667,530.3 L677.5,524 L695,508.2 L712.3,485.1 L729.5,456 L746.4,420.9 L764.2,380.8 L780.8,338.5 L798,293 L814.8,249.7 L828,220.8" fill="none" stroke="#ff0000" stroke-width="3.0" stroke-linejoin="round"/><path d="M140,533.5h10v10h-10zM157.6,533.5h10v10h-10zM174.8,533.5h10v10h-10zM192,533.5h10v10h-10zM209.2,533.5h10v10h-10zM226.4,533.5h10v10h-10zM243.6,533.5h10v10h-10zM260.8,533.5h10v10h-10zM278,533.5h10v10h-10zM295.2,533.5h10v10h-10zM312.4,533.5h10v10h-10zM329.6,533.5h10v10h-10zM346.8,533.5h10v10h-10zM364,533.5h10v10h-10zM381.2,533.5h10v10h-10zM398.4,533.5h10v10h-10zM415.6,533.5h10v10h-10zM432.8,533.5h10v10h-10zM450,533.5h10v10h-10zM467.2,533.5h10v10h-10zM484.4,533.5h10v10h-10zM501.6,533.5h10v10h-10zM518.8,533.5h10v10h-10zM540.6,533.5h10v10h-10zM557.8,533.5h10v10h-10zM575,533.5h10v10h-10zM592.3,533.5h10v10h-10zM609.7,533.5h10v10h-10zM626.3,533.5h10v10h-10zM642,532.5h10v10h-10zM655.5,527.5h10v10h-10zM662,525.3h10v10h-10zM672.5,519h10v10h-10zM690,503.2h10v10h-10zM707.3,480.1h10v10h-10zM724.5,451h10v10h-10zM741.4,415.9h10v10h-10zM759.2,375.8h10v10h-10zM775.8,333.5h10v10h-10zM793,288h10v10h-10zM809.8,244.7h10v10h-10zM823,215.8h10v10h-10z" fill="#fff" stroke="#ff0000" stroke-width="1.1"/>
<path d="M143,538.5 L160.6,538.5 L177.8,538.5 L195,538.5 L212.2,538.5 L229.4,538.5 L246.6,538.5 L263.8,538.5 L281,538.5 L298.2,538.5 L315.4,538.5 L332.6,538.5 L349.8,538.5 L367,538.5 L384.2,538.5 L401.4,538.5 L418.6,538.5 L435.8,538.5 L453,538.5 L470.2,538.5 L487.4,538.5 L504.6,538.5 L521.8,538.5 L543.6,538.5 L560.8,538.5 L578,538.5 L595.3,538.5 L612.7,538.5 L629.8,538.5 L646.4,537.5 L660.5,532.4 L667,530.1 L677.5,523.8 L695,507.8 L712.3,484.5 L729.5,455.2 L746.4,420 L764.2,379.8 L780.8,337.3 L798,291.7 L814.8,248.3 L828,219.4" fill="none" stroke="#ff0000" stroke-width="3.0" stroke-linejoin="round"/><path d="M138,533.5h10v10h-10zM155.6,533.5h10v10h-10zM172.8,533.5h10v10h-10zM190,533.5h10v10h-10zM207.2,533.5h10v10h-10zM224.4,533.5h10v10h-10zM241.6,533.5h10v10h-10zM258.8,533.5h10v10h-10zM276,533.5h10v10h-10zM293.2,533.5h10v10h-10zM310.4,533.5h10v10h-10zM327.6,533.5h10v10h-10zM344.8,533.5h10v10h-10zM362,533.5h10v10h-10zM379.2,533.5h10v10h-10zM396.4,533.5h10v10h-10zM413.6,533.5h10v10h-10zM430.8,533.5h10v10h-10zM448,533.5h10v10h-10zM465.2,533.5h10v10h-10zM482.4,533.5h10v10h-10zM499.6,533.5h10v10h-10zM516.8,533.5h10v10h-10zM538.6,533.5h10v10h-10zM555.8,533.5h10v10h-10zM573,533.5h10v10h-10zM590.3,533.5h10v10h-10zM607.7,533.5h10v10h-10zM624.8,533.5h10v10h-10zM641.4,532.5h10v10h-10zM655.5,527.4h10v10h-10zM662,525.1h10v10h-10zM672.5,518.8h10v10h-10zM690,502.8h10v10h-10zM707.3,479.5h10v10h-10zM724.5,450.2h10v10h-10zM741.4,415h10v10h-10zM759.2,374.8h10v10h-10zM775.8,332.3h10v10h-10zM793,286.7h10v10h-10zM809.8,243.3h10v10h-10zM823,214.4h10v10h-10z" fill="#fff" stroke="#ff0000" stroke-width="1.1"/>
<path d="M142,538.5 L159.6,538.5 L176.8,538.5 L194,538.5 L211.2,538.5 L228.4,538.5 L245.6,538.5 L262.8,538.5 L280,538.5 L297.2,538.5 L314.4,538.5 L331.6,538.5 L348.8,538.5 L366,538.5 L383.2,538.5 L400.4,538.5 L417.6,538.5 L434.8,538.5 L452,538.5 L469.2,538.5 L486.4,538.5 L503.6,538.5 L520.8,538.5 L542.6,538.5 L559.8,538.5 L577,538.5 L594.3,538.5 L611.7,538.5 L629,538.5 L646,537.5 L660.5,532.3 L667,530 L677.5,523.6 L695,507.4 L712.3,484 L729.5,454.5 L746.4,419.1 L764.2,378.7 L780.8,336.1 L798,290.3 L814.8,246.9 L828,218" fill="none" stroke="#ff0000" stroke-width="3.0" stroke-linejoin="round"/><path d="M137,533.5h10v10h-10zM154.6,533.5h10v10h-10zM171.8,533.5h10v10h-10zM189,533.5h10v10h-10zM206.2,533.5h10v10h-10zM223.4,533.5h10v10h-10zM240.6,533.5h10v10h-10zM257.8,533.5h10v10h-10zM275,533.5h10v10h-10zM292.2,533.5h10v10h-10zM309.4,533.5h10v10h-10zM326.6,533.5h10v10h-10zM343.8,533.5h10v10h-10zM361,533.5h10v10h-10zM378.2,533.5h10v10h-10zM395.4,533.5h10v10h-10zM412.6,533.5h10v10h-10zM429.8,533.5h10v10h-10zM447,533.5h10v10h-10zM464.2,533.5h10v10h-10zM481.4,533.5h10v10h-10zM498.6,533.5h10v10h-10zM515.8,533.5h10v10h-10zM537.6,533.5h10v10h-10zM554.8,533.5h10v10h-10zM572,533.5h10v10h-10zM589.3,533.5h10v10h-10zM606.7,533.5h10v10h-10zM624,533.5h10v10h-10zM641,532.5h10v10h-10zM655.5,527.3h10v10h-10zM662,525h10v10h-10zM672.5,518.6h10v10h-10zM690,502.4h10v10h-10zM707.3,479h10v10h-10zM724.5,449.5h10v10h-10zM741.4,414.1h10v10h-10zM759.2,373.7h10v10h-10zM775.8,331.1h10v10h-10zM793,285.3h10v10h-10zM809.8,241.9h10v10h-10zM823,213h10v10h-10z" fill="#fff" stroke="#ff0000" stroke-width="1.1"/>
<path d="M145.5,450.8 L150.6,451.7 L159,453.1 L168.8,454.8 L181,457.3 L197.6,461.7 L214.7,466.2 L232,470.8 L249.3,474.3 L266,475 L282.2,474.8 L298.3,473.2 L315.2,467.5 L324.4,463.7 L335.4,459.1 L352.3,450.3 L369,440 L386.5,425.5 L403.1,409.9 L420.8,392 L437.8,373.5 L454.8,352.5 L471.9,336.5 L483.9,321.9 L507.9,300 L525.5,285 L542.7,266 L559.9,248 L576.6,229 L593.3,210 L610.7,190 L628.2,172 L645.5,153 L655.1,141.9 L677.5,115.6 L694.9,96.5 L712.2,80.8 L729.6,69.7 L746.3,61.6 L764.2,53.7 L780.6,48.5 L797.7,44 L815.2,40.5 L828,39" fill="none" stroke="#ff0000" stroke-width="3.0" stroke-linejoin="round"/><path d="M140.5,445.8h10v10h-10zM145.6,446.7h10v10h-10zM154,448.1h10v10h-10zM163.8,449.8h10v10h-10zM176,452.3h10v10h-10zM192.6,456.7h10v10h-10zM209.7,461.2h10v10h-10zM227,465.8h10v10h-10zM244.3,469.3h10v10h-10zM261,470h10v10h-10zM277.2,469.8h10v10h-10zM293.3,468.2h10v10h-10zM310.2,462.5h10v10h-10zM319.4,458.7h10v10h-10zM330.4,454.1h10v10h-10zM347.3,445.3h10v10h-10zM364,435h10v10h-10zM381.5,420.5h10v10h-10zM398.1,404.9h10v10h-10zM415.8,387h10v10h-10zM432.8,368.5h10v10h-10zM449.8,347.5h10v10h-10zM466.9,331.5h10v10h-10zM478.9,316.9h10v10h-10zM502.9,295h10v10h-10zM520.5,280h10v10h-10zM537.7,261h10v10h-10zM554.9,243h10v10h-10zM571.6,224h10v10h-10zM588.3,205h10v10h-10zM605.7,185h10v10h-10zM623.2,167h10v10h-10zM640.5,148h10v10h-10zM650.1,136.9h10v10h-10zM672.5,110.6h10v10h-10zM689.9,91.5h10v10h-10zM707.2,75.8h10v10h-10zM724.6,64.7h10v10h-10zM741.3,56.6h10v10h-10zM759.2,48.7h10v10h-10zM775.6,43.5h10v10h-10zM792.7,39h10v10h-10zM810.2,35.5h10v10h-10zM823,34h10v10h-10z" fill="#fff" stroke="#ff0000" stroke-width="1.1"/>
<path d="M142.5,450.3 L147.6,451.2 L156,452.6 L165.8,454.3 L178,456.5 L194.6,460.9 L211.7,465.4 L229,470 L246.3,474.1 L263.4,475 L280.3,474.9 L297,473.7 L314.6,467.8 L324.1,463.8 L335.4,459.1 L352.3,450.3 L369,440 L386.5,425.5 L403.1,409.9 L420.8,392 L437.8,373.5 L454.8,352.5 L471.9,336.5 L491.5,313.4 L507.9,300 L525.5,285 L542.7,266 L559.9,248 L576.6,227.9 L593.3,207.6 L610.7,186.4 L628.2,167 L645.5,147.2 L662.2,127.5 L677.5,110.1 L694.9,92 L712.2,77.5 L729.6,67 L746.3,59.3 L764.2,52 L780.6,46.9 L797.7,42.6 L815.2,39.3 L828,37.9" fill="none" stroke="#ff0000" stroke-width="3.0" stroke-linejoin="round"/><path d="M137.5,445.3h10v10h-10zM142.6,446.2h10v10h-10zM151,447.6h10v10h-10zM160.8,449.3h10v10h-10zM173,451.5h10v10h-10zM189.6,455.9h10v10h-10zM206.7,460.4h10v10h-10zM224,465h10v10h-10zM241.3,469.1h10v10h-10zM258.4,470h10v10h-10zM275.3,469.9h10v10h-10zM292,468.7h10v10h-10zM309.6,462.8h10v10h-10zM319.1,458.8h10v10h-10zM330.4,454.1h10v10h-10zM347.3,445.3h10v10h-10zM364,435h10v10h-10zM381.5,420.5h10v10h-10zM398.1,404.9h10v10h-10zM415.8,387h10v10h-10zM432.8,368.5h10v10h-10zM449.8,347.5h10v10h-10zM466.9,331.5h10v10h-10zM486.5,308.4h10v10h-10zM502.9,295h10v10h-10zM520.5,280h10v10h-10zM537.7,261h10v10h-10zM554.9,243h10v10h-10zM571.6,222.9h10v10h-10zM588.3,202.6h10v10h-10zM605.7,181.4h10v10h-10zM623.2,162h10v10h-10zM640.5,142.2h10v10h-10zM657.2,122.5h10v10h-10zM672.5,105.1h10v10h-10zM689.9,87h10v10h-10zM707.2,72.5h10v10h-10zM724.6,62h10v10h-10zM741.3,54.3h10v10h-10zM759.2,47h10v10h-10zM775.6,41.9h10v10h-10zM792.7,37.6h10v10h-10zM810.2,34.3h10v10h-10zM823,32.9h10v10h-10z" fill="#fff" stroke="#ff0000" stroke-width="1.1"/>
<path d="M144.5,450.1 L149.6,450.9 L158,452.3 L167.8,454.1 L180,456.7 L196.6,461 L213.7,465.4 L231,469.9 L248.3,473.5 L265.1,474.5 L281.6,474.3 L297.9,472.7 L315,466.8 L324.3,463 L335.4,458.2 L352.3,448.9 L369,437.9 L386.5,423.4 L403.1,407.6 L420.8,389.7 L437.8,371.2 L454.8,350.7 L471.9,334.2 L482,322.3 L507.9,297 L525.5,281.2 L542.7,262.1 L559.9,243.7 L576.6,223.7 L593.3,203.4 L610.7,182.5 L628.2,162.6 L645.5,142.1 L653.3,132.6 L677.5,105.3 L694.9,88.1 L712.2,74.5 L729.6,64.6 L746.3,57.2 L764.2,50.5 L780.6,45.5 L797.7,41.4 L815.2,38.3 L828,36.9" fill="none" stroke="#ff0000" stroke-width="3.0" stroke-linejoin="round"/><path d="M139.5,445.1h10v10h-10zM144.6,445.9h10v10h-10zM153,447.3h10v10h-10zM162.8,449.1h10v10h-10zM175,451.7h10v10h-10zM191.6,456h10v10h-10zM208.7,460.4h10v10h-10zM226,464.9h10v10h-10zM243.3,468.5h10v10h-10zM260.1,469.5h10v10h-10zM276.6,469.3h10v10h-10zM292.9,467.7h10v10h-10zM310,461.8h10v10h-10zM319.3,458h10v10h-10zM330.4,453.2h10v10h-10zM347.3,443.9h10v10h-10zM364,432.9h10v10h-10zM381.5,418.4h10v10h-10zM398.1,402.6h10v10h-10zM415.8,384.7h10v10h-10zM432.8,366.2h10v10h-10zM449.8,345.7h10v10h-10zM466.9,329.2h10v10h-10zM477,317.3h10v10h-10zM502.9,292h10v10h-10zM520.5,276.2h10v10h-10zM537.7,257.1h10v10h-10zM554.9,238.7h10v10h-10zM571.6,218.7h10v10h-10zM588.3,198.4h10v10h-10zM605.7,177.5h10v10h-10zM623.2,157.6h10v10h-10zM640.5,137.1h10v10h-10zM648.3,127.6h10v10h-10zM672.5,100.3h10v10h-10zM689.9,83.1h10v10h-10zM707.2,69.5h10v10h-10zM724.6,59.6h10v10h-10zM741.3,52.2h10v10h-10zM759.2,45.5h10v10h-10zM775.6,40.5h10v10h-10zM792.7,36.4h10v10h-10zM810.2,33.3h10v10h-10zM823,31.9h10v10h-10z" fill="#fff" stroke="#ff0000" stroke-width="1.1"/>
<path d="M141.5,449.7 L146.6,450.4 L155,451.8 L164.8,453.5 L177,455.9 L193.6,460.2 L210.7,464.7 L228,469.2 L245.3,473.3 L262.6,474.5 L279.6,474.4 L296.6,473.1 L314.4,467.1 L324.1,463.1 L335.4,458.2 L352.3,448.9 L369,437.9 L386.5,423.4 L403.1,407.6 L420.8,389.7 L437.8,371.2 L454.8,350.7 L471.9,334.2 L486.8,316.6 L507.9,297 L525.5,281.2 L542.7,262.1 L559.9,243.7 L576.6,222.8 L593.3,201.5 L610.7,179.7 L628.2,158.8 L645.5,137.6 L657.7,122.5 L677.5,101 L694.9,84.6 L712.2,71.9 L729.6,62.5 L746.3,55.4 L764.2,49.1 L780.6,44.3 L797.7,40.3 L815.2,37.4 L828,36" fill="none" stroke="#ff0000" stroke-width="3.0" stroke-linejoin="round"/><path d="M136.5,444.7h10v10h-10zM141.6,445.4h10v10h-10zM150,446.8h10v10h-10zM159.8,448.5h10v10h-10zM172,450.9h10v10h-10zM188.6,455.2h10v10h-10zM205.7,459.7h10v10h-10zM223,464.2h10v10h-10zM240.3,468.3h10v10h-10zM257.6,469.5h10v10h-10zM274.6,469.4h10v10h-10zM291.6,468.1h10v10h-10zM309.4,462.1h10v10h-10zM319.1,458.1h10v10h-10zM330.4,453.2h10v10h-10zM347.3,443.9h10v10h-10zM364,432.9h10v10h-10zM381.5,418.4h10v10h-10zM398.1,402.6h10v10h-10zM415.8,384.7h10v10h-10zM432.8,366.2h10v10h-10zM449.8,345.7h10v10h-10zM466.9,329.2h10v10h-10zM481.8,311.6h10v10h-10zM502.9,292h10v10h-10zM520.5,276.2h10v10h-10zM537.7,257.1h10v10h-10zM554.9,238.7h10v10h-10zM571.6,217.8h10v10h-10zM588.3,196.5h10v10h-10zM605.7,174.7h10v10h-10zM623.2,153.8h10v10h-10zM640.5,132.6h10v10h-10zM652.7,117.5h10v10h-10zM672.5,96h10v10h-10zM689.9,79.6h10v10h-10zM707.2,66.9h10v10h-10zM724.6,57.5h10v10h-10zM741.3,50.4h10v10h-10zM759.2,44.1h10v10h-10zM775.6,39.3h10v10h-10zM792.7,35.3h10v10h-10zM810.2,32.4h10v10h-10zM823,31h10v10h-10z" fill="#fff" stroke="#ff0000" stroke-width="1.1"/>
<path d="M143.5,449.4 L148.6,450.2 L157,451.5 L166.8,453.4 L179,456 L195.6,460.2 L212.7,464.6 L230,469 L247.3,472.7 L264.3,473.9 L280.9,473.8 L297.5,472.1 L314.8,466.2 L324.2,462.4 L335.4,457.3 L352.3,447.5 L369,435.9 L386.5,421.2 L403.1,405.3 L420.8,387.4 L437.8,368.9 L454.8,348.9 L471.9,331.9 L493.4,307.9 L507.9,294 L525.5,277.4 L542.7,258.2 L559.9,239.4 L576.6,218.8 L593.3,197.8 L610.7,176.5 L628.2,155.4 L645.5,133.7 L663.9,111.4 L677.5,97.4 L694.9,81.6 L712.2,69.7 L729.6,60.8 L746.3,53.9 L764.2,48 L780.6,43.3 L797.7,39.4 L815.2,36.6 L828,35.3" fill="none" stroke="#ff0000" stroke-width="3.0" stroke-linejoin="round"/><path d="M138.5,444.4h10v10h-10zM143.6,445.2h10v10h-10zM152,446.5h10v10h-10zM161.8,448.4h10v10h-10zM174,451h10v10h-10zM190.6,455.2h10v10h-10zM207.7,459.6h10v10h-10zM225,464h10v10h-10zM242.3,467.7h10v10h-10zM259.3,468.9h10v10h-10zM275.9,468.8h10v10h-10zM292.5,467.1h10v10h-10zM309.8,461.2h10v10h-10zM319.2,457.4h10v10h-10zM330.4,452.3h10v10h-10zM347.3,442.5h10v10h-10zM364,430.9h10v10h-10zM381.5,416.2h10v10h-10zM398.1,400.3h10v10h-10zM415.8,382.4h10v10h-10zM432.8,363.9h10v10h-10zM449.8,343.9h10v10h-10zM466.9,326.9h10v10h-10zM488.4,302.9h10v10h-10zM502.9,289h10v10h-10zM520.5,272.4h10v10h-10zM537.7,253.2h10v10h-10zM554.9,234.4h10v10h-10zM571.6,213.8h10v10h-10zM588.3,192.8h10v10h-10zM605.7,171.5h10v10h-10zM623.2,150.4h10v10h-10zM640.5,128.7h10v10h-10zM658.9,106.4h10v10h-10zM672.5,92.4h10v10h-10zM689.9,76.6h10v10h-10zM707.2,64.7h10v10h-10zM724.6,55.8h10v10h-10zM741.3,48.9h10v10h-10zM759.2,43h10v10h-10zM775.6,38.3h10v10h-10zM792.7,34.4h10v10h-10zM810.2,31.6h10v10h-10zM823,30.3h10v10h-10z" fill="#fff" stroke="#ff0000" stroke-width="1.1"/>
<path d="M142,449.2 L147.1,449.9 L155.5,451.2 L165.3,453.1 L177.5,455.7 L194.1,459.8 L211.2,464.3 L228.5,468.7 L245.8,472.6 L263,473.9 L280,473.8 L296.8,472.3 L314.5,466.3 L324.1,462.4 L335.4,457.3 L352.3,447.5 L369,435.9 L386.5,421.2 L403.1,405.3 L420.8,387.4 L437.8,368.9 L454.8,348.9 L471.9,331.9 L484.9,317 L507.9,294 L525.5,277.4 L542.7,258.2 L559.9,239.4 L576.6,218.2 L593.3,196.5 L610.7,174.5 L628.2,152.7 L645.5,130.5 L656,117.2 L677.5,94.3 L694.9,79.1 L712.2,67.8 L729.6,59.3 L746.3,52.6 L764.2,47 L780.6,42.4 L797.7,38.6 L815.2,36 L828,34.7" fill="none" stroke="#ff0000" stroke-width="3.0" stroke-linejoin="round"/><path d="M137,444.2h10v10h-10zM142.1,444.9h10v10h-10zM150.5,446.2h10v10h-10zM160.3,448.1h10v10h-10zM172.5,450.7h10v10h-10zM189.1,454.8h10v10h-10zM206.2,459.3h10v10h-10zM223.5,463.7h10v10h-10zM240.8,467.6h10v10h-10zM258,468.9h10v10h-10zM275,468.8h10v10h-10zM291.8,467.3h10v10h-10zM309.5,461.3h10v10h-10zM319.1,457.4h10v10h-10zM330.4,452.3h10v10h-10zM347.3,442.5h10v10h-10zM364,430.9h10v10h-10zM381.5,416.2h10v10h-10zM398.1,400.3h10v10h-10zM415.8,382.4h10v10h-10zM432.8,363.9h10v10h-10zM449.8,343.9h10v10h-10zM466.9,326.9h10v10h-10zM479.9,312h10v10h-10zM502.9,289h10v10h-10zM520.5,272.4h10v10h-10zM537.7,253.2h10v10h-10zM554.9,234.4h10v10h-10zM571.6,213.2h10v10h-10zM588.3,191.5h10v10h-10zM605.7,169.5h10v10h-10zM623.2,147.7h10v10h-10zM640.5,125.5h10v10h-10zM651,112.2h10v10h-10zM672.5,89.3h10v10h-10zM689.9,74.1h10v10h-10zM707.2,62.8h10v10h-10zM724.6,54.3h10v10h-10zM741.3,47.6h10v10h-10zM759.2,42h10v10h-10zM775.6,37.4h10v10h-10zM792.7,33.6h10v10h-10zM810.2,31h10v10h-10zM823,29.7h10v10h-10z" fill="#fff" stroke="#ff0000" stroke-width="1.1"/>
<path d="M145,449.1 L150.1,449.8 L158.5,451.2 L168.3,453.2 L180.5,456 L197.1,460.1 L214.2,464.5 L231.5,468.8 L248.8,472.2 L265.5,473.4 L281.9,473.1 L298.1,471.2 L315.1,465.3 L324.3,461.6 L335.4,456.4 L352.3,446 L369,433.8 L386.5,419.1 L403.1,402.9 L420.8,385.1 L437.8,366.6 L454.8,347 L471.9,329.6 L488.7,310.8 L507.9,291 L525.5,273.7 L542.7,254.4 L559.9,235 L576.6,214.5 L593.3,193.3 L610.7,172.2 L628.2,150.5 L645.5,128 L659.5,110 L677.5,91.9 L694.9,77.2 L712.2,66.4 L729.6,58.1 L746.3,51.5 L764.2,46.3 L780.6,41.7 L797.7,38 L815.2,35.4 L828,34.2" fill="none" stroke="#ff0000" stroke-width="3.0" stroke-linejoin="round"/><path d="M140,444.1h10v10h-10zM145.1,444.8h10v10h-10zM153.5,446.2h10v10h-10zM163.3,448.2h10v10h-10zM175.5,451h10v10h-10zM192.1,455.1h10v10h-10zM209.2,459.5h10v10h-10zM226.5,463.8h10v10h-10zM243.8,467.2h10v10h-10zM260.5,468.4h10v10h-10zM276.9,468.1h10v10h-10zM293.1,466.2h10v10h-10zM310.1,460.3h10v10h-10zM319.3,456.6h10v10h-10zM330.4,451.4h10v10h-10zM347.3,441h10v10h-10zM364,428.8h10v10h-10zM381.5,414.1h10v10h-10zM398.1,397.9h10v10h-10zM415.8,380.1h10v10h-10zM432.8,361.6h10v10h-10zM449.8,342h10v10h-10zM466.9,324.6h10v10h-10zM483.7,305.8h10v10h-10zM502.9,286h10v10h-10zM520.5,268.7h10v10h-10zM537.7,249.4h10v10h-10zM554.9,230h10v10h-10zM571.6,209.5h10v10h-10zM588.3,188.3h10v10h-10zM605.7,167.2h10v10h-10zM623.2,145.5h10v10h-10zM640.5,123h10v10h-10zM654.5,105h10v10h-10zM672.5,86.9h10v10h-10zM689.9,72.2h10v10h-10zM707.2,61.4h10v10h-10zM724.6,53.1h10v10h-10zM741.3,46.5h10v10h-10zM759.2,41.3h10v10h-10zM775.6,36.7h10v10h-10zM792.7,33h10v10h-10zM810.2,30.4h10v10h-10zM823,29.2h10v10h-10z" fill="#fff" stroke="#ff0000" stroke-width="1.1"/>
<path d="M143,448.8 L148.1,449.5 L156.5,450.8 L166.3,452.7 L178.5,455.5 L195.1,459.6 L212.2,464 L229.5,468.3 L246.8,472 L263.8,473.4 L280.6,473.2 L297.3,471.5 L314.7,465.5 L324.2,461.7 L335.4,456.4 L352.3,446 L369,433.8 L386.5,419.1 L403.1,402.9 L420.8,385.1 L437.8,366.6 L454.8,347 L471.9,329.6 L492.5,306.9 L507.9,291 L525.5,273.7 L542.7,254.4 L559.9,235 L576.6,214.1 L593.3,192.4 L610.7,170.8 L628.2,148.5 L645.5,125.7 L663.1,103.9 L677.5,89.8 L694.9,75.4 L712.2,65.1 L729.6,57 L746.3,50.6 L764.2,45.6 L780.6,41.1 L797.7,37.5 L815.2,35 L828,33.7" fill="none" stroke="#ff0000" stroke-width="3.0" stroke-linejoin="round"/><path d="M138,443.8h10v10h-10zM143.1,444.5h10v10h-10zM151.5,445.8h10v10h-10zM161.3,447.7h10v10h-10zM173.5,450.5h10v10h-10zM190.1,454.6h10v10h-10zM207.2,459h10v10h-10zM224.5,463.3h10v10h-10zM241.8,467h10v10h-10zM258.8,468.4h10v10h-10zM275.6,468.2h10v10h-10zM292.3,466.5h10v10h-10zM309.7,460.5h10v10h-10zM319.2,456.7h10v10h-10zM330.4,451.4h10v10h-10zM347.3,441h10v10h-10zM364,428.8h10v10h-10zM381.5,414.1h10v10h-10zM398.1,397.9h10v10h-10zM415.8,380.1h10v10h-10zM432.8,361.6h10v10h-10zM449.8,342h10v10h-10zM466.9,324.6h10v10h-10zM487.5,301.9h10v10h-10zM502.9,286h10v10h-10zM520.5,268.7h10v10h-10zM537.7,249.4h10v10h-10zM554.9,230h10v10h-10zM571.6,209.1h10v10h-10zM588.3,187.4h10v10h-10zM605.7,165.8h10v10h-10zM623.2,143.5h10v10h-10zM640.5,120.7h10v10h-10zM658.1,98.9h10v10h-10zM672.5,84.8h10v10h-10zM689.9,70.4h10v10h-10zM707.2,60.1h10v10h-10zM724.6,52h10v10h-10zM741.3,45.6h10v10h-10zM759.2,40.6h10v10h-10zM775.6,36.1h10v10h-10zM792.7,32.5h10v10h-10zM810.2,30h10v10h-10zM823,28.7h10v10h-10z" fill="#fff" stroke="#ff0000" stroke-width="1.1"/>
<path d="M144,448.4 L149.1,449 L157.5,450.3 L167.3,452.4 L179.5,455.4 L196.1,459.4 L213.2,463.7 L230.5,467.9 L247.8,471.3 L264.7,472.8 L281.2,472.6 L297.7,470.7 L314.9,464.7 L324.3,461 L335.4,455.5 L352.3,444.6 L369,431.8 L386.5,416.9 L403.1,400.6 L420.8,382.8 L437.8,364.3 L454.8,345.2 L471.9,327.3 L485.8,312.2 L507.9,288 L525.5,269.9 L542.7,250.5 L559.9,230.7 L576.6,210.5 L593.3,189.6 L610.7,169 L628.2,147.2 L645.5,124.1 L656.9,109.3 L677.5,88.2 L694.9,74.2 L712.2,64.1 L729.6,56.3 L746.3,50 L764.2,45.1 L780.6,40.7 L797.7,37.1 L815.2,34.6 L828,33.4" fill="none" stroke="#ff0000" stroke-width="3.0" stroke-linejoin="round"/><path d="M139,443.4h10v10h-10zM144.1,444h10v10h-10zM152.5,445.3h10v10h-10zM162.3,447.4h10v10h-10zM174.5,450.4h10v10h-10zM191.1,454.4h10v10h-10zM208.2,458.7h10v10h-10zM225.5,462.9h10v10h-10zM242.8,466.3h10v10h-10zM259.7,467.8h10v10h-10zM276.2,467.6h10v10h-10zM292.7,465.7h10v10h-10zM309.9,459.7h10v10h-10zM319.3,456h10v10h-10zM330.4,450.5h10v10h-10zM347.3,439.6h10v10h-10zM364,426.8h10v10h-10zM381.5,411.9h10v10h-10zM398.1,395.6h10v10h-10zM415.8,377.8h10v10h-10zM432.8,359.3h10v10h-10zM449.8,340.2h10v10h-10zM466.9,322.3h10v10h-10zM480.8,307.2h10v10h-10zM502.9,283h10v10h-10zM520.5,264.9h10v10h-10zM537.7,245.5h10v10h-10zM554.9,225.7h10v10h-10zM571.6,205.5h10v10h-10zM588.3,184.6h10v10h-10zM605.7,164h10v10h-10zM623.2,142.2h10v10h-10zM640.5,119.1h10v10h-10zM651.9,104.3h10v10h-10zM672.5,83.2h10v10h-10zM689.9,69.2h10v10h-10zM707.2,59.1h10v10h-10zM724.6,51.3h10v10h-10zM741.3,45h10v10h-10zM759.2,40.1h10v10h-10zM775.6,35.7h10v10h-10zM792.7,32.1h10v10h-10zM810.2,29.6h10v10h-10zM823,28.4h10v10h-10z" fill="#fff" stroke="#ff0000" stroke-width="1.1"/>
<path d="M141,448.1 L146.1,448.6 L154.5,449.8 L164.3,451.7 L176.5,454.7 L193.1,458.6 L210.2,462.9 L227.5,467.2 L244.8,471 L262.1,472.8 L279.3,472.8 L296.4,471.1 L314.3,464.9 L324,461.1 L335.4,455.5 L352.3,444.6 L369,431.8 L386.5,416.9 L403.1,400.6 L420.8,382.8 L437.8,364.3 L454.8,345.2 L471.9,327.3 L494.4,302.8 L507.9,288 L525.5,269.9 L542.7,250.5 L559.9,230.7 L576.6,210.3 L593.3,189.1 L610.7,168.2 L628.2,146.1 L645.5,122.8 L664.8,99.1 L677.5,87 L694.9,73.2 L712.2,63.4 L729.6,55.7 L746.3,49.5 L764.2,44.8 L780.6,40.3 L797.7,36.8 L815.2,34.4 L828,33.2" fill="none" stroke="#ff0000" stroke-width="3.0" stroke-linejoin="round"/><path d="M136,443.1h10v10h-10zM141.1,443.6h10v10h-10zM149.5,444.8h10v10h-10zM159.3,446.7h10v10h-10zM171.5,449.7h10v10h-10zM188.1,453.6h10v10h-10zM205.2,457.9h10v10h-10zM222.5,462.2h10v10h-10zM239.8,466h10v10h-10zM257.1,467.8h10v10h-10zM274.3,467.8h10v10h-10zM291.4,466.1h10v10h-10zM309.3,459.9h10v10h-10zM319,456.1h10v10h-10zM330.4,450.5h10v10h-10zM347.3,439.6h10v10h-10zM364,426.8h10v10h-10zM381.5,411.9h10v10h-10zM398.1,395.6h10v10h-10zM415.8,377.8h10v10h-10zM432.8,359.3h10v10h-10zM449.8,340.2h10v10h-10zM466.9,322.3h10v10h-10zM489.4,297.8h10v10h-10zM502.9,283h10v10h-10zM520.5,264.9h10v10h-10zM537.7,245.5h10v10h-10zM554.9,225.7h10v10h-10zM571.6,205.3h10v10h-10zM588.3,184.1h10v10h-10zM605.7,163.2h10v10h-10zM623.2,141.1h10v10h-10zM640.5,117.8h10v10h-10zM659.8,94.1h10v10h-10zM672.5,82h10v10h-10zM689.9,68.2h10v10h-10zM707.2,58.4h10v10h-10zM724.6,50.7h10v10h-10zM741.3,44.5h10v10h-10zM759.2,39.8h10v10h-10zM775.6,35.3h10v10h-10zM792.7,31.8h10v10h-10zM810.2,29.4h10v10h-10zM823,28.2h10v10h-10z" fill="#fff" stroke="#ff0000" stroke-width="1.1"/>
<path d="M141.5,447.6 L146.6,448.1 L155,449.2 L164.8,451.3 L177,454.4 L193.6,458.3 L210.7,462.5 L228,466.7 L245.3,470.3 L262.6,472.3 L279.6,472.2 L296.6,470.4 L314.4,464.1 L324.1,460.4 L335.4,454.6 L352.3,443.2 L369,429.7 L386.5,414.8 L403.1,398.3 L420.8,380.5 L437.8,362 L454.8,343.4 L471.9,325 L487.7,308.3 L507.9,285 L525.5,266.1 L542.7,246.6 L559.9,226.4 L576.6,206.9 L593.3,186.6 L610.7,166.9 L628.2,145.2 L645.5,121.9 L658.6,104.7 L677.5,86.1 L694.9,72.4 L712.2,62.9 L729.6,55.2 L746.3,49.1 L764.2,44.5 L780.6,40.1 L797.7,36.5 L815.2,34.2 L828,33" fill="none" stroke="#ff0000" stroke-width="3.0" stroke-linejoin="round"/><path d="M136.5,442.6h10v10h-10zM141.6,443.1h10v10h-10zM150,444.2h10v10h-10zM159.8,446.3h10v10h-10zM172,449.4h10v10h-10zM188.6,453.3h10v10h-10zM205.7,457.5h10v10h-10zM223,461.7h10v10h-10zM240.3,465.3h10v10h-10zM257.6,467.3h10v10h-10zM274.6,467.2h10v10h-10zM291.6,465.4h10v10h-10zM309.4,459.1h10v10h-10zM319.1,455.4h10v10h-10zM330.4,449.6h10v10h-10zM347.3,438.2h10v10h-10zM364,424.7h10v10h-10zM381.5,409.8h10v10h-10zM398.1,393.3h10v10h-10zM415.8,375.5h10v10h-10zM432.8,357h10v10h-10zM449.8,338.4h10v10h-10zM466.9,320h10v10h-10zM482.7,303.3h10v10h-10zM502.9,280h10v10h-10zM520.5,261.1h10v10h-10zM537.7,241.6h10v10h-10zM554.9,221.4h10v10h-10zM571.6,201.9h10v10h-10zM588.3,181.6h10v10h-10zM605.7,161.9h10v10h-10zM623.2,140.2h10v10h-10zM640.5,116.9h10v10h-10zM653.6,99.7h10v10h-10zM672.5,81.1h10v10h-10zM689.9,67.4h10v10h-10zM707.2,57.9h10v10h-10zM724.6,50.2h10v10h-10zM741.3,44.1h10v10h-10zM759.2,39.5h10v10h-10zM775.6,35.1h10v10h-10zM792.7,31.5h10v10h-10zM810.2,29.2h10v10h-10zM823,28h10v10h-10z" fill="#fff" stroke="#ff0000" stroke-width="1.1"/>
<path d="M140.5,447.5 L145.6,448 L154,449 L163.8,451 L176,454.2 L192.6,458 L209.7,462.3 L227,466.5 L244.3,470.2 L261.7,472.3 L279,472.3 L296.2,470.5 L314.2,464.2 L324,460.4 L335.4,454.6 L352.3,443.2 L369,429.7 L386.5,414.8 L403.1,398.3 L420.8,380.5 L437.8,362 L454.8,343.4 L471.9,325 L489.6,306.3 L507.9,285 L525.5,266.1 L542.7,246.6 L559.9,226.4 L576.6,206.7 L593.3,186.2 L610.7,166.3 L628.2,144.4 L645.5,120.9 L660.4,101.3 L677.5,85.2 L694.9,71.7 L712.2,62.3 L729.6,54.8 L746.3,48.7 L764.2,44.2 L780.6,39.8 L797.7,36.3 L815.2,34 L828,32.8" fill="none" stroke="#ff0000" stroke-width="3.0" stroke-linejoin="round"/><path d="M135.5,442.5h10v10h-10zM140.6,443h10v10h-10zM149,444h10v10h-10zM158.8,446h10v10h-10zM171,449.2h10v10h-10zM187.6,453h10v10h-10zM204.7,457.3h10v10h-10zM222,461.5h10v10h-10zM239.3,465.2h10v10h-10zM256.7,467.3h10v10h-10zM274,467.3h10v10h-10zM291.2,465.5h10v10h-10zM309.2,459.2h10v10h-10zM319,455.4h10v10h-10zM330.4,449.6h10v10h-10zM347.3,438.2h10v10h-10zM364,424.7h10v10h-10zM381.5,409.8h10v10h-10zM398.1,393.3h10v10h-10zM415.8,375.5h10v10h-10zM432.8,357h10v10h-10zM449.8,338.4h10v10h-10zM466.9,320h10v10h-10zM484.6,301.3h10v10h-10zM502.9,280h10v10h-10zM520.5,261.1h10v10h-10zM537.7,241.6h10v10h-10zM554.9,221.4h10v10h-10zM571.6,201.7h10v10h-10zM588.3,181.2h10v10h-10zM605.7,161.3h10v10h-10zM623.2,139.4h10v10h-10zM640.5,115.9h10v10h-10zM655.4,96.3h10v10h-10zM672.5,80.2h10v10h-10zM689.9,66.7h10v10h-10zM707.2,57.3h10v10h-10zM724.6,49.8h10v10h-10zM741.3,43.7h10v10h-10zM759.2,39.2h10v10h-10zM775.6,34.8h10v10h-10zM792.7,31.3h10v10h-10zM810.2,29h10v10h-10zM823,27.8h10v10h-10z" fill="#fff" stroke="#ff0000" stroke-width="1.1"/>
</g>
<rect x="139.7" y="24" width="687.9" height="514.5" fill="none" stroke="#000" stroke-width="4.6" stroke-linejoin="round"/>
<path d="M225.7,538.5v-6 M225.7,24v6 M311.7,538.5v-11 M311.7,24v11 M397.7,538.5v-6 M397.7,24v6 M483.7,538.5v-11 M483.7,24v11 M569.6,538.5v-6 M569.6,24v6 M655.6,538.5v-11 M655.6,24v11 M741.6,538.5v-6 M741.6,24v6 M139.7,526.6h5.5 M139.7,519.6h5.5 M139.7,514.7h5.5 M139.7,510.8h5.5 M139.7,507.7h5.5 M139.7,505.1h5.5 M139.7,502.8h5.5 M139.7,500.7h5.5 M139.7,498.9h10 M139.7,487h5.5 M139.7,480h5.5 M139.7,475.1h5.5 M139.7,471.3h5.5 M139.7,468.1h5.5 M139.7,465.5h5.5 M139.7,463.2h5.5 M139.7,461.2h5.5 M139.7,459.3h10 M139.7,447.4h5.5 M139.7,440.5h5.5 M139.7,435.5h5.5 M139.7,431.7h5.5 M139.7,428.5h5.5 M139.7,425.9h5.5 M139.7,423.6h5.5 M139.7,421.6h5.5 M139.7,419.8h10 M139.7,407.9h5.5 M139.7,400.9h5.5 M139.7,395.9h5.5 M139.7,392.1h5.5 M139.7,389h5.5 M139.7,386.3h5.5 M139.7,384h5.5 M139.7,382h5.5 M139.7,380.2h10 M139.7,368.3h5.5 M139.7,361.3h5.5 M139.7,356.4h5.5 M139.7,352.5h5.5 M139.7,349.4h5.5 M139.7,346.7h5.5 M139.7,344.5h5.5 M139.7,342.4h5.5 M139.7,340.6h10 M139.7,328.7h5.5 M139.7,321.7h5.5 M139.7,316.8h5.5 M139.7,313h5.5 M139.7,309.8h5.5 M139.7,307.2h5.5 M139.7,304.9h5.5 M139.7,302.8h5.5 M139.7,301h10 M139.7,289.1h5.5 M139.7,282.2h5.5 M139.7,277.2h5.5 M139.7,273.4h5.5 M139.7,270.2h5.5 M139.7,267.6h5.5 M139.7,265.3h5.5 M139.7,263.3h5.5 M139.7,261.5h10 M139.7,249.5h5.5 M139.7,242.6h5.5 M139.7,237.6h5.5 M139.7,233.8h5.5 M139.7,230.7h5.5 M139.7,228h5.5 M139.7,225.7h5.5 M139.7,223.7h5.5 M139.7,221.9h10 M139.7,210h5.5 M139.7,203h5.5 M139.7,198.1h5.5 M139.7,194.2h5.5 M139.7,191.1h5.5 M139.7,188.4h5.5 M139.7,186.1h5.5 M139.7,184.1h5.5 M139.7,182.3h10 M139.7,170.4h5.5 M139.7,163.4h5.5 M139.7,158.5h5.5 M139.7,154.6h5.5 M139.7,151.5h5.5 M139.7,148.9h5.5 M139.7,146.6h5.5 M139.7,144.5h5.5 M139.7,142.7h10 M139.7,130.8h5.5 M139.7,123.8h5.5 M139.7,118.9h5.5 M139.7,115.1h5.5 M139.7,111.9h5.5 M139.7,109.3h5.5 M139.7,107h5.5 M139.7,105h5.5 M139.7,103.2h10 M139.7,91.2h5.5 M139.7,84.3h5.5 M139.7,79.3h5.5 M139.7,75.5h5.5 M139.7,72.4h5.5 M139.7,69.7h5.5 M139.7,67.4h5.5 M139.7,65.4h5.5 M139.7,63.6h10 M139.7,51.7h5.5 M139.7,44.7h5.5 M139.7,39.7h5.5 M139.7,35.9h5.5 M139.7,32.8h5.5 M139.7,30.1h5.5 M139.7,27.8h5.5 M139.7,25.8h5.5 M827.6,487.1h-5.5 M827.6,435.6h-10 M827.6,384.1h-5.5 M827.6,332.7h-10 M827.6,281.2h-5.5 M827.6,229.8h-10 M827.6,178.4h-5.5 M827.6,126.9h-10 M827.6,75.4h-5.5" stroke="#000" stroke-width="4.2" stroke-linecap="round" fill="none"/>
<g>
<text x="229.51" y="69.6" font-size="28.4" textLength="362.72" lengthAdjust="spacingAndGlyphs">Single-layer ADG 1T-DRAM</text>
<text x="235.51" y="108.7" font-size="28.4" textLength="362.49" lengthAdjust="spacingAndGlyphs">3-D Stacked ADG 1T-DRAM</text>
<text x="167.8" y="149.4" font-size="28.4" textLength="189.19" lengthAdjust="spacingAndGlyphs">Sample : 4000</text>
<text x="162.4" y="191.2" font-size="28.4" textLength="151.49" lengthAdjust="spacingAndGlyphs"><tspan font-style="italic">L</tspan><tspan dy="11.2" font-size="17.5">g1</tspan><tspan dy="-11.2"> = 70 </tspan><tspan font-style="italic">nm</tspan></text>
<text x="329.02" y="191.2" font-size="28.4" textLength="149.67" lengthAdjust="spacingAndGlyphs"><tspan font-style="italic">L</tspan><tspan dy="11.2" font-size="17.5">g2</tspan><tspan dy="-11.2"> = 50 </tspan><tspan font-style="italic">nm</tspan></text>
<text x="163.64" y="237.2" font-size="28.4" textLength="133.75" lengthAdjust="spacingAndGlyphs"><tspan font-style="italic">T</tspan><tspan dy="11.8" font-size="17.5">ox</tspan><tspan dy="-11.8"> = 3 </tspan><tspan font-style="italic">nm</tspan></text>
<text x="330.45" y="237.2" font-size="28.4" textLength="169.09" lengthAdjust="spacingAndGlyphs"><tspan font-style="italic">T</tspan><tspan dy="11.8" font-size="17.5">body</tspan><tspan dy="-11.8"> = 12 </tspan><tspan font-style="italic">nm</tspan></text>
<text x="162.15" y="301.4" font-size="28.4" textLength="122.57" lengthAdjust="spacingAndGlyphs"><tspan font-style="italic">T</tspan> = 358 <tspan font-style="italic">K</tspan></text>
<text x="163.2" y="396.8" font-size="28.4" textLength="128.6" lengthAdjust="spacingAndGlyphs"><tspan font-style="italic">V</tspan><tspan dy="10.9" font-size="17.5" font-style="italic">d</tspan><tspan dy="-10.9"> = 0.5 </tspan><tspan font-style="italic">V</tspan></text>
<text x="319.62" y="633.2" font-size="43.5" textLength="328.35" lengthAdjust="spacingAndGlyphs">Gate voltage [<tspan font-style="italic">V</tspan>]</text>
<text x="111.91" y="575.5" font-size="33.5" textLength="57.43" lengthAdjust="spacingAndGlyphs">-0.5</text>
<text x="288.62" y="575.5" font-size="33.5" textLength="45.52" lengthAdjust="spacingAndGlyphs">0.0</text>
<text x="460.29" y="575.5" font-size="33.5" textLength="46.99" lengthAdjust="spacingAndGlyphs">0.5</text>
<text x="631.43" y="575.5" font-size="33.5" textLength="45.82" lengthAdjust="spacingAndGlyphs">1.0</text>
<text x="802.58" y="575.5" font-size="33.5" textLength="47" lengthAdjust="spacingAndGlyphs">1.5</text>
<text x="838.8" y="548.1" font-size="33.5">0</text>
<text x="838.8" y="445.2" font-size="33.5">200</text>
<text x="839.8" y="342.3" font-size="33.5">400</text>
<text x="838.8" y="239.4" font-size="33.5">600</text>
<text x="838.8" y="136.5" font-size="33.5">800</text>
<text x="837.8" y="33.6" font-size="33.5">1000</text>
<text x="128" y="36.3" text-anchor="end" font-size="34">10<tspan dy="-20" font-size="20">-3</tspan></text>
<text x="128" y="75.88" text-anchor="end" font-size="34">10<tspan dy="-20" font-size="20">-4</tspan></text>
<text x="128" y="115.45" text-anchor="end" font-size="34">10<tspan dy="-20" font-size="20">-5</tspan></text>
<text x="128" y="155.03" text-anchor="end" font-size="34">10<tspan dy="-20" font-size="20">-6</tspan></text>
<text x="128" y="194.61" text-anchor="end" font-size="34">10<tspan dy="-20" font-size="20">-7</tspan></text>
<text x="128" y="234.18" text-anchor="end" font-size="34">10<tspan dy="-20" font-size="20">-8</tspan></text>
<text x="128" y="273.76" text-anchor="end" font-size="34">10<tspan dy="-20" font-size="20">-9</tspan></text>
<text x="128" y="313.34" text-anchor="end" font-size="34">10<tspan dy="-20" font-size="20">-10</tspan></text>
<text x="128" y="352.92" text-anchor="end" font-size="34">10<tspan dy="-20" font-size="20">-11</tspan></text>
<text x="128" y="392.49" text-anchor="end" font-size="34">10<tspan dy="-20" font-size="20">-12</tspan></text>
<text x="128" y="432.07" text-anchor="end" font-size="34">10<tspan dy="-20" font-size="20">-13</tspan></text>
<text x="128" y="471.65" text-anchor="end" font-size="34">10<tspan dy="-20" font-size="20">-14</tspan></text>
<text x="128" y="511.22" text-anchor="end" font-size="34">10<tspan dy="-20" font-size="20">-15</tspan></text>
<text x="128" y="550.8" text-anchor="end" font-size="34">10<tspan dy="-20" font-size="20">-16</tspan></text>
<text transform="translate(34.4,489.79) rotate(-90)" x="0" y="0" font-size="44" textLength="421.83" lengthAdjust="spacingAndGlyphs">Drain current [<tspan font-style="italic">A/</tspan><tspan font-style="italic" font-weight="normal" font-family="Liberation Serif">&#956;</tspan><tspan font-style="italic">m</tspan>]</text>
<text transform="translate(933.7,53.29) rotate(90)" x="0" y="0" font-size="44" textLength="446.07" lengthAdjust="spacingAndGlyphs">Drain current [<tspan font-style="italic" font-weight="normal" font-family="Liberation Serif">&#956;</tspan><tspan>A</tspan><tspan font-style="italic">/</tspan><tspan font-style="italic" font-weight="normal" font-family="Liberation Serif">&#956;</tspan><tspan font-style="italic">m</tspan>]</text>
<path d="M156.8,59.8H220.5" stroke="#000" stroke-width="4.3" stroke-linecap="round"/>
<path d="M161.8,99.6H226.4" stroke="#ff0000" stroke-width="2.8" stroke-linecap="round"/>
<rect x="189" y="94.9" width="10" height="10" fill="#fff" stroke="#ff0000" stroke-width="1.1"/>
</g>
</svg>
</body></html>
